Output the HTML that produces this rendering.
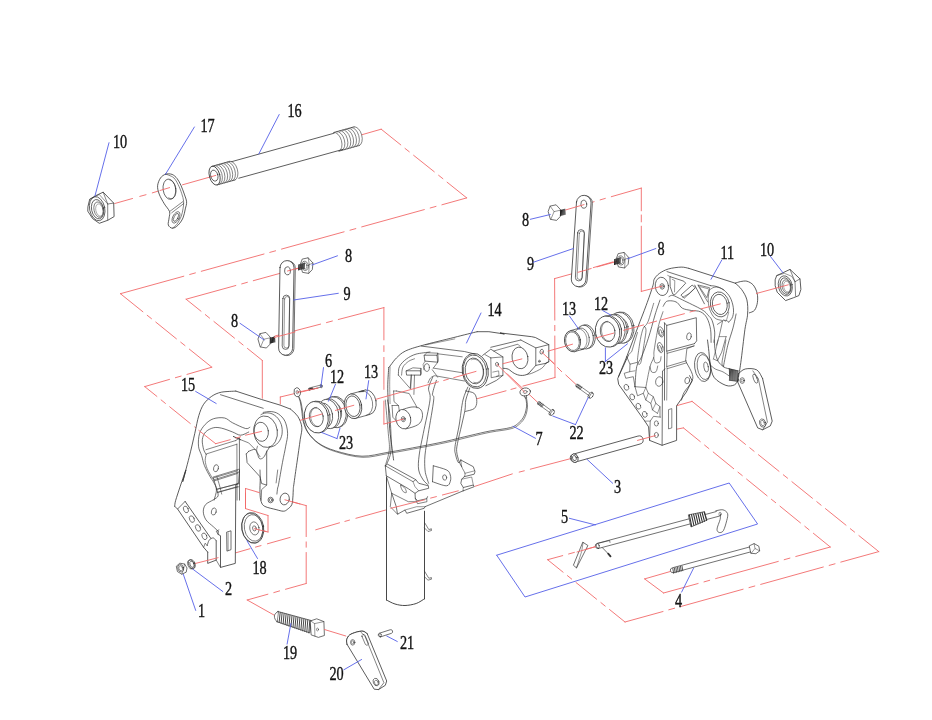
<!DOCTYPE html>
<html><head><meta charset="utf-8"><title>Exploded view</title>
<style>
html,body{margin:0;padding:0;background:#fff;}
body{width:932px;height:720px;overflow:hidden;font-family:"Liberation Serif",serif;}
svg{display:block;will-change:transform}
.lb{font-family:"Liberation Serif",serif;font-size:18.5px;fill:#111;stroke:#111;stroke-width:0.4px;}
path,ellipse,line,circle{stroke-linecap:round;stroke-linejoin:round}
</style></head><body>
<svg width="932" height="720" viewBox="0 0 932 720">
<rect width="932" height="720" fill="#fff"/>
<path d="M114.8,203.5 L132.5,198.5 M139.8,196.4 L146.0,194.7 M152.3,192.9 L169.6,187.6 M182.5,184.8 L215.8,175.4 " fill="none" stroke="#f26a6a" stroke-width="0.9" stroke-linecap="butt"/>
<path d="M362.0,134.7 L381.2,129.2 M381.2,129.2 L400.8,144.9 M405.0,148.4 L409.3,151.8 M413.6,155.3 L434.3,171.8 M438.6,175.3 L442.9,178.7 M447.1,182.2 L466.7,197.9 M466.7,197.9 L441.9,204.8 M436.0,206.4 L430.2,208.0 M424.3,209.6 L361.7,226.9 M355.8,228.6 L350.0,230.2 M344.1,231.8 L281.5,249.1 M275.6,250.8 L269.8,252.4 M264.0,254.0 L201.3,271.3 M195.4,272.9 L189.7,274.5 M183.8,276.2 L120.4,293.7 M120.4,293.7 L142.9,311.8 M147.2,315.3 L151.5,318.7 M155.8,322.1 L176.4,338.8 M180.7,342.2 L185.0,345.6 M189.3,349.1 L211.8,367.2 M211.8,367.2 L187.0,374.4 M181.1,376.1 L175.4,377.7 M169.5,379.4 L144.7,386.6 M144.7,386.6 L156.9,396.4 M161.1,399.9 L165.4,403.4 M169.7,406.8 L190.3,423.5 M194.6,426.9 L198.9,430.4 M203.1,433.9 L215.3,443.7 M215.3,443.7 L229.7,439.9 M235.6,438.3 L241.3,436.8 M247.2,435.2 L261.6,431.4 " fill="none" stroke="#f26a6a" stroke-width="0.9" stroke-linecap="butt"/>
<path d="M303.0,267.0 L253.3,280.7 M247.4,282.3 L241.7,283.9 M235.8,285.5 L186.1,299.2 M186.1,299.2 L201.0,311.2 M205.3,314.6 L209.6,318.1 M213.9,321.5 L234.5,338.1 M238.8,341.5 L243.1,345.0 M247.4,348.4 L262.3,360.4 M262.3,360.4 L262.3,398.3 " fill="none" stroke="#f26a6a" stroke-width="0.9" stroke-linecap="butt"/>
<path d="M275.0,336.0 L320.6,324.1 M326.5,322.6 L332.4,321.0 M338.3,319.5 L383.9,307.6 " fill="none" stroke="#f26a6a" stroke-width="0.9" stroke-linecap="butt"/>
<path d="M383.9,307.6 L383.9,339.9 M383.9,345.7 L383.9,351.5 M383.9,357.4 L383.9,389.4 " fill="none" stroke="#f26a6a" stroke-width="0.9" stroke-linecap="butt"/>
<path d="M555.0,377.5 L554.8,336.0 M554.8,330.7 L554.8,325.4 M554.8,320.1 L554.6,278.6 M554.6,278.6 L579.5,271.7 M585.4,270.1 L591.2,268.5 M597.1,266.9 L622.0,260.0 " fill="none" stroke="#f26a6a" stroke-width="0.9" stroke-linecap="butt"/>
<path d="M318.0,388.0 L280.3,397.0 M280.3,397.0 L280.3,404.0 " fill="none" stroke="#f26a6a" stroke-width="0.9" stroke-linecap="butt"/>
<path d="M584.0,204.6 L594.1,201.7 M600.1,199.9 L605.3,198.4 M611.3,196.7 L641.3,188.1 " fill="none" stroke="#f26a6a" stroke-width="0.9" stroke-linecap="butt"/>
<path d="M641.3,188.1 L641.3,210.8 M641.3,215.0 L641.3,221.9 M641.3,226.2 L641.3,291.4 " fill="none" stroke="#f26a6a" stroke-width="0.9" stroke-linecap="butt"/>
<path d="M235.5,552.9 L250.0,548.7 M255.5,547.1 L261.0,545.6 M267.4,543.8 L290.2,537.4 M315.7,529.8 L339.5,522.8 M344.9,521.4 L349.5,520.1 M355.9,518.3 L386.5,509.8 M475.0,486.3 L512.3,473.9 M519.2,472.1 L524.3,470.8 M530.3,469.2 L571.5,458.4 " fill="none" stroke="#f26a6a" stroke-width="0.9" stroke-linecap="butt"/>
<path d="M676.6,429.2 L683.4,427.9 M683.4,427.9 L700.3,441.6 M704.6,445.1 L708.9,448.6 M713.2,452.0 L733.7,468.7 M738.0,472.2 L742.3,475.6 M746.6,479.1 L767.1,495.8 M771.4,499.3 L775.7,502.7 M780.0,506.2 L800.5,522.9 M804.8,526.3 L809.1,529.8 M813.4,533.3 L830.3,547.0 M830.3,547.0 L795.8,556.5 M789.9,558.1 L784.2,559.7 M778.3,561.4 L715.6,578.6 M709.7,580.3 L704.0,581.9 M698.1,583.5 L663.6,593.0 M663.6,593.0 L644.6,578.9 M644.6,578.9 L671.7,571.1 " fill="none" stroke="#f26a6a" stroke-width="0.9" stroke-linecap="butt"/>
<path d="M676.6,405.7 L692.1,401.4 M692.1,401.4 L712.0,417.4 M716.3,420.9 L720.6,424.3 M724.9,427.8 L745.5,444.4 M749.8,447.8 L754.1,451.3 M758.4,454.7 L779.0,471.3 M783.3,474.8 L787.6,478.2 M791.9,481.7 L812.5,498.3 M816.8,501.7 L821.1,505.2 M825.4,508.6 L846.0,525.2 M850.3,528.7 L854.6,532.1 M858.9,535.6 L878.8,551.6 M878.8,551.6 L840.8,562.1 M835.0,563.8 L829.2,565.4 M823.3,567.0 L760.7,584.4 M754.8,586.0 L749.0,587.6 M743.1,589.2 L680.5,606.6 M674.6,608.2 L668.8,609.8 M663.0,611.5 L625.0,622.0 M625.0,622.0 L609.5,609.5 M605.2,606.1 L600.9,602.6 M596.6,599.2 L576.0,582.5 M571.7,579.1 L567.4,575.6 M563.1,572.2 L547.6,559.7 M547.6,559.7 L562.7,555.6 M568.6,554.0 L574.4,552.4 M580.3,550.8 L595.4,546.7 " fill="none" stroke="#f26a6a" stroke-width="0.9" stroke-linecap="butt"/>
<path d="M254.3,528.7 L268.0,532.0 M268.0,532.0 L268.0,515.5 M268.0,515.5 L245.5,508.6 M245.5,508.6 L245.5,488.5 M245.5,488.5 L259.2,492.5 " fill="none" stroke="#f26a6a" stroke-width="0.9" stroke-linecap="butt"/>
<path d="M284.9,499.8 L306.2,505.6 M306.2,505.6 L306.2,536.6 M306.2,541.9 L306.2,547.2 M306.2,552.5 L306.2,583.5 M306.2,583.5 L285.5,589.3 M279.6,590.9 L273.8,592.6 M267.9,594.2 L247.2,600.0 M247.2,600.0 L274.6,615.4 " fill="none" stroke="#f26a6a" stroke-width="0.9" stroke-linecap="butt"/>
<path d="M541.7,352.1 L554.2,363.8 M557.5,367.5 L561.7,371.7 M565.8,375.0 L576.7,385.1 " fill="none" stroke="#f26a6a" stroke-width="0.9" stroke-linecap="butt"/>
<path d="M497.0,364.3 L538.9,403.5 " fill="none" stroke="#f26a6a" stroke-width="0.9" stroke-linecap="butt"/>
<path d="M496.7,555.2 L729.2,483.0 L757.6,524.0 L525.0,597.0 L496.7,555.2" fill="none" stroke="#5560e8" stroke-width="0.9"/>
<text x="0" y="0" transform="translate(113,147.5) scale(0.77,1)" class="lb" opacity="0.99">10</text>
<text x="0" y="0" transform="translate(200.4,131.5) scale(0.77,1)" class="lb" opacity="0.99">17</text>
<text x="0" y="0" transform="translate(287.5,117) scale(0.77,1)" class="lb" opacity="0.99">16</text>
<text x="0" y="0" transform="translate(345,261.5) scale(0.77,1)" class="lb" opacity="0.99">8</text>
<text x="0" y="0" transform="translate(343.5,300) scale(0.77,1)" class="lb" opacity="0.99">9</text>
<text x="0" y="0" transform="translate(231,327) scale(0.77,1)" class="lb" opacity="0.99">8</text>
<text x="0" y="0" transform="translate(325,366.5) scale(0.77,1)" class="lb" opacity="0.99">6</text>
<text x="0" y="0" transform="translate(330,383) scale(0.77,1)" class="lb" opacity="0.99">12</text>
<text x="0" y="0" transform="translate(364,378) scale(0.77,1)" class="lb" opacity="0.99">13</text>
<text x="0" y="0" transform="translate(181,391) scale(0.77,1)" class="lb" opacity="0.99">15</text>
<text x="0" y="0" transform="translate(339,448.5) scale(0.77,1)" class="lb" opacity="0.99">23</text>
<text x="0" y="0" transform="translate(487.5,315.5) scale(0.77,1)" class="lb" opacity="0.99">14</text>
<text x="0" y="0" transform="translate(535.5,445) scale(0.77,1)" class="lb" opacity="0.99">7</text>
<text x="0" y="0" transform="translate(569.5,438.5) scale(0.77,1)" class="lb" opacity="0.99">22</text>
<text x="0" y="0" transform="translate(614,492.5) scale(0.77,1)" class="lb" opacity="0.99">3</text>
<text x="0" y="0" transform="translate(561,523) scale(0.77,1)" class="lb" opacity="0.99">5</text>
<text x="0" y="0" transform="translate(675,606.5) scale(0.77,1)" class="lb" opacity="0.99">4</text>
<text x="0" y="0" transform="translate(252.5,573.5) scale(0.77,1)" class="lb" opacity="0.99">18</text>
<text x="0" y="0" transform="translate(225,594.5) scale(0.77,1)" class="lb" opacity="0.99">2</text>
<text x="0" y="0" transform="translate(198,617) scale(0.77,1)" class="lb" opacity="0.99">1</text>
<text x="0" y="0" transform="translate(283,658.5) scale(0.77,1)" class="lb" opacity="0.99">19</text>
<text x="0" y="0" transform="translate(329.5,680) scale(0.77,1)" class="lb" opacity="0.99">20</text>
<text x="0" y="0" transform="translate(400,649) scale(0.77,1)" class="lb" opacity="0.99">21</text>
<text x="0" y="0" transform="translate(522,225.5) scale(0.77,1)" class="lb" opacity="0.99">8</text>
<text x="0" y="0" transform="translate(527,269.5) scale(0.77,1)" class="lb" opacity="0.99">9</text>
<text x="0" y="0" transform="translate(657.5,255) scale(0.77,1)" class="lb" opacity="0.99">8</text>
<text x="0" y="0" transform="translate(720.5,258.5) scale(0.77,1)" class="lb" opacity="0.99">11</text>
<text x="0" y="0" transform="translate(760,256) scale(0.77,1)" class="lb" opacity="0.99">10</text>
<text x="0" y="0" transform="translate(562,315) scale(0.77,1)" class="lb" opacity="0.99">13</text>
<text x="0" y="0" transform="translate(594,310) scale(0.77,1)" class="lb" opacity="0.99">12</text>
<text x="0" y="0" transform="translate(599,373.5) scale(0.77,1)" class="lb" opacity="0.99">23</text>
<ellipse cx="214.6" cy="175.6" rx="5.2" ry="9.7" transform="rotate(-15.5 214.6 175.6)" fill="none" stroke="#333" stroke-width="0.8"/>
<ellipse cx="214.29999999999998" cy="175.6" rx="3.6" ry="5.6" transform="rotate(-15.5 214.29999999999998 175.6)" fill="none" stroke="#333" stroke-width="0.7"/>
<path d="M214.21,165.65 A5.2,9.7 -15.5 0 1 219.39,184.35" fill="none" stroke="#333" stroke-width="0.6" />
<path d="M216.81,164.93 A5.2,9.7 -15.5 0 1 222.00,183.62" fill="none" stroke="#333" stroke-width="0.6" />
<path d="M219.42,164.20 A5.2,9.7 -15.5 0 1 224.60,182.90" fill="none" stroke="#333" stroke-width="0.6" />
<path d="M222.02,163.48 A5.2,9.7 -15.5 0 1 227.21,182.18" fill="none" stroke="#333" stroke-width="0.6" />
<path d="M224.63,162.76 A5.2,9.7 -15.5 0 1 229.81,181.45" fill="none" stroke="#333" stroke-width="0.6" />
<path d="M227.23,162.03 A5.2,9.7 -15.5 0 1 232.41,180.73" fill="none" stroke="#333" stroke-width="0.6" />
<path d="M229.83,161.31 A5.2,9.7 -15.5 0 1 235.02,180.00" fill="none" stroke="#333" stroke-width="0.6" />
<path d="M231.5,161.7 L334.1,133.2" fill="none" stroke="#333" stroke-width="0.8" />
<path d="M238.8,178.2 L342.9,149.4" fill="none" stroke="#333" stroke-width="0.8" />
<path d="M212.0,166.3 L229.8,161.3" fill="none" stroke="#333" stroke-width="0.7" />
<path d="M217.2,184.9 L235.0,180.0" fill="none" stroke="#333" stroke-width="0.7" />
<path d="M333.91,132.45 A5.2,9.7 -15.5 0 1 339.09,151.14" fill="none" stroke="#333" stroke-width="0.6" />
<path d="M336.80,131.65 A5.2,9.7 -15.5 0 1 341.98,150.34" fill="none" stroke="#333" stroke-width="0.6" />
<path d="M339.69,130.84 A5.2,9.7 -15.5 0 1 344.87,149.54" fill="none" stroke="#333" stroke-width="0.6" />
<path d="M342.58,130.04 A5.2,9.7 -15.5 0 1 347.76,148.74" fill="none" stroke="#333" stroke-width="0.6" />
<path d="M345.47,129.24 A5.2,9.7 -15.5 0 1 350.66,147.93" fill="none" stroke="#333" stroke-width="0.6" />
<path d="M348.36,128.44 A5.2,9.7 -15.5 0 1 353.55,147.13" fill="none" stroke="#333" stroke-width="0.6" />
<path d="M351.25,127.64 A5.2,9.7 -15.5 0 1 356.44,146.33" fill="none" stroke="#333" stroke-width="0.6" />
<path d="M354.14,126.84 A5.2,9.7 -15.5 0 1 359.33,145.53" fill="none" stroke="#333" stroke-width="0.6" />
<path d="M333.9,132.4 L354.1,126.8" fill="none" stroke="#333" stroke-width="0.7" />
<path d="M339.1,151.1 L359.3,145.5" fill="none" stroke="#333" stroke-width="0.7" />
<path d="M88.0,206.3 L89.7,199.3 L95.4,195.8 L103.2,192.2 L113.7,203.1 L114.1,216.6 L107.7,220.3 L99.3,223.3 L92.6,218.6 L88.0,211.5 Z" fill="#fff" stroke="#333" stroke-width="0.8" />
<path d="M103.2,192.2 L107.7,204.0 L107.7,220.3" fill="none" stroke="#333" stroke-width="0.6" />
<path d="M107.7,204.0 L113.7,203.1" fill="none" stroke="#333" stroke-width="0.6" />
<path d="M89.7,199.3 L99.3,194.5 L107.7,204.0" fill="none" stroke="#333" stroke-width="0.5" />
<ellipse cx="97.2" cy="208.7" rx="7.6" ry="12.2" transform="rotate(-12 97.2 208.7)" fill="none" stroke="#333" stroke-width="0.7"/>
<ellipse cx="97.6" cy="209.2" rx="6.0" ry="9.8" transform="rotate(-12 97.6 209.2)" fill="none" stroke="#333" stroke-width="0.7"/>
<ellipse cx="98.6" cy="209.6" rx="4.6" ry="7.8" transform="rotate(-12 98.6 209.6)" fill="none" stroke="#333" stroke-width="0.6"/>
<ellipse cx="99.4" cy="210.0" rx="3.6" ry="6.2" transform="rotate(-12 99.4 210.0)" fill="none" stroke="#666" stroke-width="0.5"/>
<path d="M165.6,174.2 C163.7,174.8 161.8,176.1 160.5,178.0 C159.1,180.0 157.9,183.1 157.6,185.7 C157.4,188.4 158.1,191.1 159.2,194.1 C160.3,197.1 162.6,200.9 164.3,203.8 C166.0,206.7 168.7,209.1 169.5,211.5 C170.3,213.9 169.3,215.7 169.1,217.9 C168.9,220.2 167.8,223.3 168.3,225.0 C168.9,226.7 170.9,228.2 172.4,228.2 C174.0,228.3 176.1,227.1 177.8,225.4 C179.6,223.7 181.8,220.7 183.0,217.9 C184.2,215.2 184.7,211.6 185.3,208.9 C185.9,206.2 186.8,204.3 186.6,201.8 C186.4,199.4 185.2,196.8 184.3,194.1 C183.4,191.4 182.2,188.3 181.1,185.7 C179.9,183.2 178.7,180.6 177.2,178.7 C175.7,176.8 174.0,175.2 172.1,174.4 C170.1,173.7 167.5,173.6 165.6,174.2 Z" fill="#fff" stroke="#333" stroke-width="0.8" />
<path d="M165.6,174.2 C166.2,174.3 167.4,174.5 168.8,175.2 C170.2,175.8 172.4,176.5 174.0,178.0 C175.5,179.6 176.8,181.9 178.1,184.5 C179.4,187.0 180.8,190.7 181.7,193.5 C182.6,196.3 183.4,198.6 183.6,201.2 C183.9,203.8 183.4,206.3 183.0,208.9 C182.6,211.5 182.1,214.1 181.1,216.6 C180.0,219.2 178.3,222.4 176.8,224.4 C175.4,226.3 173.2,227.6 172.4,228.2" fill="none" stroke="#333" stroke-width="0.6" />
<ellipse cx="169.4" cy="189.2" rx="6.3" ry="10.2" transform="rotate(-8 169.4 189.2)" fill="none" stroke="#333" stroke-width="0.7"/>
<path d="M170.0,180.2 C170.1,180.2 170.5,180.3 170.8,180.4 C171.0,180.5 171.3,180.6 171.6,180.8 C171.8,180.9 172.1,181.1 172.3,181.3 C172.6,181.5 172.8,181.8 173.0,182.0 C173.3,182.3 173.5,182.6 173.7,182.9 C173.9,183.2 174.1,183.5 174.3,183.9 C174.5,184.2 174.7,184.6 174.8,184.9 C175.0,185.3 175.1,185.7 175.3,186.1 C175.4,186.5 175.5,186.9 175.6,187.3 C175.7,187.8 175.8,188.2 175.8,188.6 C175.9,189.0 175.9,189.5 176.0,189.9 C176.0,190.3 176.0,190.8 176.0,191.2 C176.0,191.6 175.9,192.0 175.9,192.4 C175.8,192.8 175.8,193.2 175.7,193.6 C175.6,194.0 175.5,194.4 175.4,194.7 C175.3,195.1 175.1,195.4 175.0,195.7 C174.8,196.0 174.7,196.3 174.5,196.6 C174.3,196.9 174.1,197.1 173.9,197.3 C173.7,197.6 173.5,197.8 173.2,197.9 C173.0,198.1 172.8,198.2 172.5,198.3 C172.3,198.4 172.0,198.5 171.8,198.6 C171.5,198.6 171.3,198.6 171.0,198.6 C170.7,198.6 170.5,198.6 170.2,198.5 C170.0,198.5 169.7,198.4 169.4,198.2 C169.2,198.1 168.8,197.8 168.6,197.8" fill="none" stroke="#333" stroke-width="0.6" />
<path d="M170.1,211.2 L183.0,201.5" fill="none" stroke="#333" stroke-width="0.6" />
<path d="M171.7,212.8 L183.8,203.5" fill="none" stroke="#333" stroke-width="0.6" />
<ellipse cx="176.0" cy="217.4" rx="3.2" ry="6.2" transform="rotate(27 176.0 217.4)" fill="none" stroke="#333" stroke-width="0.6"/>
<ellipse cx="176.0" cy="217.4" rx="1.9" ry="4.4" transform="rotate(27 176.0 217.4)" fill="none" stroke="#333" stroke-width="0.6"/>
<path d="M220.5,567.4 L220.5,535.7 L218.1,534.4 L216.2,540.8 L216.2,560.1 L207.7,563.4 L207.7,552.1 L203.6,547.3 L177.6,509.0 L174.7,506.4 L175.6,500.6 L180.3,486.1 L185.9,470.0 L182.7,481.6 L189.1,457.4 L194.8,433.3 L198.8,415.6 L203.6,404.3 L211.7,396.3 L221.3,392.2 L235.8,391.1 L261.6,399.5 L280.1,405.1 L290.5,409.1 L297.8,416.4 L301.8,427.2 L300.2,439.7 L297.0,462.3 L293.8,484.8 L293.3,489.3 L293.0,495.8 L291.8,504.6 L287.3,509.4 L283.3,511.2 L276.1,509.6 L264.8,506.4 L261.1,501.4 L260.0,492.5 L235.3,492.5 L235.3,563.4 Z" fill="#fff" stroke="#fff" stroke-width="0.1" />
<path d="M220.5,535.7 L220.5,567.4 L235.3,563.4 L235.3,479.7 L220.5,486.1 Z" fill="#fff" stroke="#fff" stroke-width="0.1" />
<path d="M174.7,506.4 C174.8,505.4 174.7,504.0 175.6,500.6 C176.6,497.2 178.6,491.2 180.3,486.1 C182.0,481.0 185.5,470.8 185.9,470.0 C186.3,469.2 182.2,483.7 182.7,481.6 C183.2,479.5 187.1,465.5 189.1,457.4 C191.2,449.4 193.2,440.3 194.8,433.3 C196.4,426.3 197.3,420.4 198.8,415.6 C200.3,410.8 201.5,407.5 203.6,404.3 C205.8,401.1 208.7,398.3 211.7,396.3 C214.6,394.3 217.3,393.1 221.3,392.2 C225.4,391.4 233.4,391.3 235.8,391.1" fill="none" stroke="#333" stroke-width="0.8" />
<path d="M235.8,391.1 L261.6,399.5 L280.1,405.1 L290.5,409.1" fill="none" stroke="#333" stroke-width="0.8" />
<path d="M290.5,409.1 C291.8,410.4 295.9,413.4 297.8,416.4 C299.7,419.4 301.4,423.3 301.8,427.2 C302.2,431.1 301.0,433.9 300.2,439.7 C299.4,445.6 298.1,454.7 297.0,462.3 C295.9,469.8 294.4,480.3 293.8,484.8 C293.1,489.3 293.4,487.5 293.3,489.3 C293.1,491.1 293.2,493.2 293.0,495.8 C292.7,498.3 292.8,502.3 291.8,504.6 C290.9,506.9 288.7,508.3 287.3,509.4 C285.9,510.5 285.2,511.2 283.3,511.2 C281.4,511.2 279.1,510.4 276.1,509.6 C273.0,508.8 267.3,507.7 264.8,506.4 C262.3,505.0 261.9,503.7 261.1,501.4 C260.3,499.1 260.1,496.2 260.0,492.5 C259.8,488.9 260.2,481.8 260.3,479.7" fill="none" stroke="#333" stroke-width="0.8" />
<path d="M220.5,394.7 L263.2,408.3" fill="none" stroke="#333" stroke-width="0.7" />
<path d="M263.2,412.4 C264.5,412.2 268.7,411.3 271.2,411.6 C273.8,411.8 276.2,412.4 278.5,414.0 C280.8,415.6 283.4,418.0 284.9,421.2 C286.4,424.4 287.5,429.1 287.6,433.3 C287.8,437.4 286.6,441.3 285.7,446.2 C284.9,451.0 283.7,455.8 282.5,462.3 C281.3,468.7 279.3,480.5 278.5,484.8 C277.7,489.0 277.9,486.1 277.7,487.7 C277.4,489.3 277.0,493.1 276.9,494.1" fill="none" stroke="#333" stroke-width="0.7" />
<ellipse cx="265.6" cy="431.7" rx="11.8" ry="15.8" transform="rotate(-8 265.6 431.7)" fill="none" stroke="#333" stroke-width="0.7"/>
<path d="M260.9,414.7 C261.2,414.5 262.2,414.0 262.8,413.7 C263.4,413.5 264.1,413.3 264.7,413.1 C265.4,413.0 266.1,412.9 266.7,412.9 C267.4,412.8 268.1,412.9 268.8,413.0 C269.5,413.0 270.1,413.2 270.8,413.4 C271.5,413.6 272.1,413.9 272.8,414.2 C273.4,414.5 274.0,414.9 274.6,415.3 C275.2,415.7 275.8,416.2 276.4,416.7 C276.9,417.2 277.4,417.7 277.9,418.3 C278.4,418.9 278.9,419.6 279.3,420.3 C279.7,420.9 280.1,421.6 280.4,422.4 C280.8,423.1 281.0,423.9 281.3,424.6 C281.5,425.4 281.7,426.2 281.9,427.0 C282.0,427.8 282.2,428.6 282.2,429.5 C282.3,430.3 282.3,431.1 282.2,431.9 C282.2,432.7 282.1,433.5 282.0,434.3 C281.8,435.1 281.7,435.9 281.4,436.6 C281.2,437.4 280.9,438.1 280.6,438.8 C280.3,439.5 279.9,440.2 279.5,440.8 C279.1,441.5 278.7,442.1 278.2,442.6 C277.7,443.2 277.2,443.7 276.7,444.1 C276.1,444.6 275.6,445.0 275.0,445.4 C274.4,445.7 273.8,446.1 273.1,446.3 C272.5,446.6 271.8,446.8 271.2,446.9 C270.5,447.0 269.5,447.1 269.2,447.1" fill="none" stroke="#333" stroke-width="0.7" />
<ellipse cx="261.2" cy="431.8" rx="7.2" ry="9.6" transform="rotate(-8 261.2 431.8)" fill="none" stroke="#333" stroke-width="0.7"/>
<path d="M249.8,427.2 C249.1,427.4 248.3,429.2 245.5,428.5 C242.6,427.7 236.1,424.6 232.6,422.8 C229.1,421.1 227.8,418.7 224.6,418.0 C221.3,417.3 216.5,417.7 213.3,418.8 C210.1,419.9 207.5,422.0 205.2,424.4 C203.0,426.8 200.7,429.7 199.6,433.3 C198.5,436.9 198.1,442.4 198.5,446.2 C198.8,449.9 200.7,452.6 201.7,455.8 C202.7,459.0 203.0,462.0 204.4,465.5 C205.8,469.0 208.6,474.1 210.1,476.7 C211.5,479.4 212.2,479.4 213.3,481.6 C214.4,483.7 216.4,486.5 216.5,489.6 C216.6,492.7 214.5,498.3 214.1,500.1" fill="none" stroke="#333" stroke-width="0.7" />
<path d="M248.7,432.0 C247.4,432.5 243.3,435.2 240.6,435.2 C238.0,435.2 235.8,433.2 232.6,432.0 C229.4,430.8 224.6,428.8 221.3,428.1 C218.1,427.4 215.9,427.2 213.3,427.8 C210.7,428.5 207.4,430.0 205.6,432.0 C203.7,434.0 202.7,436.8 202.3,439.7 C202.0,442.6 203.0,446.9 203.6,449.4 C204.3,451.8 205.8,453.7 206.2,454.5" fill="none" stroke="#333" stroke-width="0.7" />
<path d="M206.2,454.5 C206.0,455.6 205.1,458.3 205.2,460.6 C205.4,463.0 206.0,465.7 207.2,468.7 C208.4,471.6 211.6,476.7 212.5,478.4" fill="none" stroke="#333" stroke-width="0.6" />
<path d="M206.0,449.7 L235.8,440.5" fill="none" stroke="#333" stroke-width="0.6" />
<path d="M206.5,453.9 L236.9,444.2" fill="none" stroke="#333" stroke-width="0.6" />
<path d="M213.0,477.1 L239.0,469.2" fill="none" stroke="#333" stroke-width="0.6" />
<path d="M213.3,480.0 L239.4,471.9" fill="none" stroke="#333" stroke-width="0.6" />
<path d="M216.2,489.3 L239.0,483.7" fill="none" stroke="#333" stroke-width="0.6" />
<path d="M217.3,492.5 L239.0,486.7" fill="none" stroke="#333" stroke-width="0.6" />
<path d="M235.8,440.5 L239.4,438.1" fill="none" stroke="#333" stroke-width="0.6" />
<path d="M239.4,438.1 L239.5,500.1" fill="none" stroke="#333" stroke-width="0.7" />
<path d="M236.9,444.2 L237.1,500.1" fill="none" stroke="#333" stroke-width="0.6" />
<path d="M233.4,436.5 L240.6,439.7" fill="none" stroke="#333" stroke-width="0.9" />
<ellipse cx="216" cy="468.2" rx="2.4" ry="3.6" transform="rotate(15 216 468.2)" fill="none" stroke="#333" stroke-width="0.6"/>
<path d="M248.7,451.3 C249.8,451.0 253.7,448.9 255.1,449.4 C256.6,449.9 256.8,452.7 257.5,454.2 C258.3,455.8 258.6,458.2 259.6,458.7 C260.6,459.3 262.3,458.6 263.5,457.4 C264.7,456.3 265.7,453.5 266.7,451.8 C267.7,450.1 269.1,447.8 269.6,447.0" fill="none" stroke="#333" stroke-width="0.7" />
<path d="M246.3,453.9 L248.7,451.3" fill="none" stroke="#333" stroke-width="0.7" />
<path d="M246.3,453.9 L247.1,462.6 L260.0,476.7 L261.6,483.5 L266.7,485.1 L266.7,451.0" fill="none" stroke="#333" stroke-width="0.7" />
<path d="M257.5,446.2 C257.4,447.0 256.3,449.2 256.7,451.0 C257.1,452.7 259.4,455.7 260.0,456.6" fill="none" stroke="#333" stroke-width="0.6" />
<path d="M266.7,485.1 L261.6,489.6 L261.2,500.1" fill="none" stroke="#333" stroke-width="0.6" />
<path d="M240.6,439.7 L248.7,442.9 L255.1,449.4" fill="none" stroke="#333" stroke-width="0.6" />
<path d="M239.5,470.0 L238.7,483.2 L235.8,484.8 L235.3,563.4 L220.5,567.4 L220.5,535.7 L218.1,534.4 L218.1,531.2" fill="none" stroke="#333" stroke-width="0.8" />
<path d="M213.3,478.0 C213.8,479.7 215.4,484.8 216.2,487.7 C217.0,490.7 218.6,493.7 218.1,495.8 C217.6,497.8 215.4,498.3 213.3,499.8 C211.2,501.3 207.2,502.6 205.6,504.6 C203.9,506.6 203.2,509.3 203.3,511.8 C203.4,514.4 204.4,517.4 206.0,519.9 C207.7,522.4 211.3,524.8 213.3,526.7 C215.3,528.5 217.3,530.4 218.1,531.2" fill="none" stroke="#333" stroke-width="0.7" />
<path d="M216.8,476.4 C217.3,478.0 218.9,483.1 219.7,486.1 C220.5,489.0 221.3,492.8 221.7,494.1" fill="none" stroke="#333" stroke-width="0.6" />
<path d="M213.3,478.0 L237.4,470.8" fill="none" stroke="#333" stroke-width="0.6" />
<path d="M214.1,480.9 L237.4,473.5" fill="none" stroke="#333" stroke-width="0.6" />
<path d="M217.3,489.3 L237.4,483.7" fill="none" stroke="#333" stroke-width="0.6" />
<path d="M218.1,492.2 L237.4,486.6" fill="none" stroke="#333" stroke-width="0.6" />
<ellipse cx="213.8" cy="511.5" rx="2.4" ry="3.6" transform="rotate(15 213.8 511.5)" fill="none" stroke="#333" stroke-width="0.6"/>
<path d="M227.0,532.0 L231.0,530.8 L231.0,549.7 L227.3,551.0 Z" fill="none" stroke="#333" stroke-width="0.7" />
<path d="M228.1,532.8 L228.1,550.2" fill="none" stroke="#333" stroke-width="0.5" />
<path d="M207.2,545.6 C207.5,544.7 208.2,541.3 209.3,540.0 C210.3,538.7 212.1,537.8 213.3,537.9 C214.4,538.1 215.7,540.3 216.2,540.8" fill="none" stroke="#333" stroke-width="0.7" />
<path d="M207.7,552.1 L207.7,563.4 L216.2,560.1 L216.2,540.8" fill="none" stroke="#333" stroke-width="0.8" />
<path d="M216.2,560.1 L220.5,567.4" fill="none" stroke="#333" stroke-width="0.6" />
<path d="M218.1,534.4 L216.2,531.2 L218.9,529.9" fill="none" stroke="#333" stroke-width="0.6" />
<path d="M174.7,506.4 L177.6,509.0 L185.1,501.4" fill="none" stroke="#333" stroke-width="0.7" />
<path d="M177.6,509.0 L203.6,547.3 L207.7,552.1" fill="none" stroke="#333" stroke-width="0.8" />
<path d="M185.1,501.4 L210.9,538.4" fill="none" stroke="#333" stroke-width="0.8" />
<path d="M203.6,547.3 L205.2,543.2 L207.2,545.6" fill="none" stroke="#333" stroke-width="0.6" />
<ellipse cx="185.92386930629326" cy="509.4334460003219" rx="2.3" ry="3.5" transform="rotate(-25 185.92386930629326 509.4334460003219)" fill="none" stroke="#333" stroke-width="0.6"/>
<ellipse cx="191.87912441654595" cy="519.0906164493804" rx="2.3" ry="3.5" transform="rotate(-25 191.87912441654595 519.0906164493804)" fill="none" stroke="#333" stroke-width="0.6"/>
<ellipse cx="197.9953323676163" cy="527.9430226943506" rx="2.3" ry="3.5" transform="rotate(-25 197.9953323676163 527.9430226943506)" fill="none" stroke="#333" stroke-width="0.6"/>
<ellipse cx="204.4334460003219" cy="536.3125704168679" rx="2.3" ry="3.5" transform="rotate(-25 204.4334460003219 536.3125704168679)" fill="none" stroke="#333" stroke-width="0.6"/>
<ellipse cx="284.7" cy="499.0" rx="4.6" ry="5.9" transform="rotate(12 284.7 499.0)" fill="none" stroke="#333" stroke-width="0.7"/>
<ellipse cx="270.6" cy="500" rx="2.6" ry="2.8" transform="rotate(0 270.6 500)" fill="none" stroke="#333" stroke-width="0.7"/>
<ellipse cx="270.6" cy="500" rx="1.4" ry="1.5" transform="rotate(0 270.6 500)" fill="none" stroke="#333" stroke-width="0.6"/>
<path d="M260.3,479.7 L260.0,470.0" fill="none" stroke="#333" stroke-width="0.7" />
<path d="M277.7,470.0 L276.1,482.9" fill="none" stroke="#333" stroke-width="0.6" />
<path d="M388.7,367.6 L390.7,365.1 L396.5,357.9 L405.3,351.1 L422.8,345.3 L453.9,337.5 L477.2,331.7 L488.9,331.7 L504.4,334.0 L525.8,335.6 L533.6,337.5 L547.6,344.3 L549.1,347.2 L548.7,361.8 L545.6,365.1 L537.9,366.3 L533.6,372.1 L525.8,375.4 L516.1,376.0 L508.3,373.5 L502.9,372.5 L496.6,380.3 L485.0,386.1 L475.3,388.4 L476.8,401.6 L474.3,408.5 L465.5,411.4 L465.8,425.0 L461.7,450.0 L463.3,460.0 L475.0,471.7 L474.2,486.7 L463.3,490.8 L425.0,506.7 L424.2,520.0 L424.5,598.8 L405.0,605.5 L386.2,600.0 L385.8,466.7 L390.0,450.0 L387.5,416.7 L385.0,400.0 L385.8,384.2 Z" fill="#fff" stroke="#fff" stroke-width="0.1" />
<path d="M388.7,367.6 C389.1,367.2 389.4,366.7 390.7,365.1 C392.0,363.5 394.1,360.2 396.5,357.9 C399.0,355.6 400.9,353.2 405.3,351.1 C409.6,349.0 414.7,347.5 422.8,345.3 C430.9,343.0 444.8,339.8 453.9,337.5 C462.9,335.2 473.3,332.6 477.2,331.7" fill="none" stroke="#333" stroke-width="0.8" />
<path d="M477.2,331.7 L488.9,331.7 L504.4,334.0 L500.0,332.9 L531.7,336.7 L535.4,337.5 L548.8,344.6 L548.8,361.7 L545.8,363.3" fill="none" stroke="#333" stroke-width="0.8" />
<path d="M425.7,344.9 L454.8,338.9" fill="none" stroke="#333" stroke-width="0.5" />
<path d="M520.8,340.0 L535.8,347.9 L548.8,344.6" fill="none" stroke="#333" stroke-width="0.7" />
<path d="M535.8,347.9 L535.8,365.4 L545.8,363.3 L548.8,361.7" fill="none" stroke="#333" stroke-width="0.7" />
<ellipse cx="541.6666666666666" cy="351.6666666666667" rx="1.6" ry="2.5" transform="rotate(15 541.6666666666666 351.6666666666667)" fill="none" stroke="#333" stroke-width="0.6"/>
<ellipse cx="539.3333333333334" cy="361.25" rx="0.8" ry="1.2" transform="rotate(15 539.3333333333334 361.25)" fill="none" stroke="#333" stroke-width="0.6"/>
<path d="M490.8,347.3 L520.8,340.0" fill="none" stroke="#333" stroke-width="0.7" />
<path d="M493.8,351.0 L517.9,344.2 L520.8,347.1" fill="none" stroke="#333" stroke-width="0.6" />
<ellipse cx="520.0" cy="357.9166666666667" rx="7.9" ry="10.9" transform="rotate(-10 520.0 357.9166666666667)" fill="none" stroke="#333" stroke-width="0.7"/>
<path d="M503.3,368.3 C504.2,368.5 506.5,368.3 508.3,369.2 C510.1,370.0 512.1,372.3 514.2,373.3 C516.2,374.4 518.6,375.3 520.8,375.4 C523.1,375.6 525.7,375.1 527.5,374.2 C529.3,373.3 530.3,371.5 531.7,370.0 C533.1,368.5 535.1,366.2 535.8,365.4" fill="none" stroke="#333" stroke-width="0.8" />
<path d="M545.8,363.3 C545.1,364.2 544.0,366.7 541.7,368.3 C539.3,370.0 534.0,372.4 531.7,373.3 C529.3,374.3 528.2,374.0 527.5,374.2" fill="none" stroke="#333" stroke-width="0.6" />
<ellipse cx="475.2566096423017" cy="370.9331259720062" rx="13.0" ry="17.6" transform="rotate(-9 475.2566096423017 370.9331259720062)" fill="#fff" stroke="#333" stroke-width="0.8"/>
<ellipse cx="474.85660964230175" cy="370.9331259720062" rx="11.6" ry="16.0" transform="rotate(-9 474.85660964230175 370.9331259720062)" fill="none" stroke="#333" stroke-width="0.7"/>
<ellipse cx="474.4566096423017" cy="370.9331259720062" rx="9.2" ry="13.0" transform="rotate(-9 474.4566096423017 370.9331259720062)" fill="none" stroke="#333" stroke-width="0.7"/>
<path d="M471.6,359.7 C471.8,359.6 472.4,359.4 472.7,359.3 C473.1,359.2 473.5,359.2 473.9,359.2 C474.3,359.2 474.7,359.2 475.1,359.3 C475.4,359.4 475.8,359.5 476.2,359.7 C476.6,359.8 477.0,360.0 477.4,360.2 C477.7,360.5 478.1,360.7 478.4,361.0 C478.8,361.3 479.1,361.6 479.5,362.0 C479.8,362.3 480.1,362.7 480.4,363.1 C480.7,363.5 481.0,364.0 481.2,364.4 C481.5,364.9 481.7,365.4 481.9,365.9 C482.1,366.4 482.3,366.9 482.4,367.4 C482.6,367.9 482.7,368.5 482.8,369.0 C483.0,369.6 483.0,370.1 483.1,370.7 C483.1,371.2 483.2,371.8 483.2,372.3 C483.2,372.9 483.1,373.4 483.1,373.9 C483.0,374.5 482.9,375.0 482.8,375.5 C482.7,376.0 482.6,376.5 482.4,377.0 C482.3,377.4 482.1,377.9 481.9,378.3 C481.6,378.8 481.4,379.2 481.2,379.5 C480.9,379.9 480.6,380.3 480.3,380.6 C480.0,380.9 479.7,381.2 479.4,381.4 C479.1,381.7 478.7,381.9 478.4,382.0 C478.0,382.2 477.7,382.4 477.3,382.5 C476.9,382.6 476.5,382.6 476.2,382.6 C475.8,382.7 475.4,382.7 475.0,382.6 C474.6,382.5 474.0,382.4 473.8,382.3" fill="none" stroke="#333" stroke-width="0.5" />
<path d="M482.6,355.4 L490.8,349.2 L502.9,356.9 L502.9,375.4 L496.6,380.3 L485.9,385.7" fill="none" stroke="#333" stroke-width="0.7" />
<path d="M490.8,357.9 L502.9,356.9" fill="none" stroke="#333" stroke-width="0.6" />
<path d="M490.8,357.9 L491.2,377.7 L502.9,375.4" fill="none" stroke="#333" stroke-width="0.6" />
<path d="M485.0,354.6 L490.8,357.9" fill="none" stroke="#333" stroke-width="0.6" />
<ellipse cx="497.02954898911355" cy="364.3234836702955" rx="1.5" ry="2.0" transform="rotate(-10 497.02954898911355 364.3234836702955)" fill="none" stroke="#333" stroke-width="0.6"/>
<path d="M492.8,372.1 L498.6,370.9 L499.0,375.4 L496.3,376.4" fill="none" stroke="#333" stroke-width="0.5" />
<path d="M465.5,391.0 C467.0,391.4 472.4,391.7 474.3,393.5 C476.2,395.3 476.8,399.2 476.8,401.6 C476.8,404.1 476.2,406.8 474.3,408.5 C472.4,410.1 467.0,410.9 465.5,411.4" fill="none" stroke="#333" stroke-width="0.7" />
<path d="M421.5,346.1 L464.4,351.5 L475.1,354.1" fill="none" stroke="#333" stroke-width="0.7" />
<path d="M437.8,353.8 L462.2,356.8" fill="none" stroke="#333" stroke-width="0.6" />
<path d="M433.3,368.1 L463.3,372.9" fill="none" stroke="#333" stroke-width="0.6" />
<path d="M432.2,369.7 L437.0,376.1 L464.4,381.0" fill="none" stroke="#333" stroke-width="0.6" />
<path d="M437.8,362.2 L433.3,368.1" fill="none" stroke="#333" stroke-width="0.6" />
<path d="M398.4,375.1 C398.6,373.6 398.1,369.2 399.5,366.5 C400.8,363.8 403.7,361.0 406.4,359.0 C409.2,356.9 412.2,355.3 416.1,354.1 C420.0,353.0 427.7,352.4 430.0,352.0" fill="none" stroke="#333" stroke-width="0.7" />
<path d="M401.6,375.1 C401.8,373.7 401.8,369.3 403.0,367.0 C404.2,364.7 406.7,362.7 408.6,361.3 C410.5,360.0 413.5,359.2 414.5,358.8" fill="none" stroke="#333" stroke-width="0.6" />
<path d="M398.4,375.1 L410.2,388.5 L411.3,375.1" fill="none" stroke="#333" stroke-width="0.6" />
<path d="M428.1,382.8 C428.5,382.0 429.5,379.0 430.6,377.9 C431.7,376.7 433.7,375.8 434.9,375.7 C436.1,375.6 437.3,377.0 437.8,377.2" fill="none" stroke="#333" stroke-width="0.6" />
<path d="M424.5,355.2 L437.0,355.2 L437.6,362.2 L425.2,361.1 Z" fill="none" stroke="#333" stroke-width="0.7" />
<path d="M424.5,355.2 L426.8,352.7 L437.8,353.2 L437.0,355.2" fill="none" stroke="#333" stroke-width="0.6" />
<path d="M437.8,353.2 L438.3,360.6 L437.6,362.2" fill="none" stroke="#333" stroke-width="0.6" />
<ellipse cx="426.82403433476395" cy="367.55364806866953" rx="2.6" ry="3.9" transform="rotate(0 426.82403433476395 367.55364806866953)" fill="none" stroke="#333" stroke-width="0.6"/>
<path d="M425.2,361.1 L423.1,364.3 L423.8,369.7" fill="none" stroke="#333" stroke-width="0.5" />
<path d="M406.4,370.8 L420.4,370.8 L420.6,375.1 L407.0,375.1 Z" fill="none" stroke="#333" stroke-width="0.7" />
<path d="M406.4,370.8 L412.9,367.8 L421.0,368.4 L420.4,370.8" fill="none" stroke="#333" stroke-width="0.6" />
<path d="M421.0,368.4 L421.4,373.5 L420.6,375.1" fill="none" stroke="#333" stroke-width="0.6" />
<path d="M411.3,375.1 L410.7,388.5" fill="none" stroke="#333" stroke-width="0.6" />
<path d="M414.5,375.3 L413.9,394.4" fill="none" stroke="#333" stroke-width="0.6" />
<path d="M388.7,367.6 C388.6,370.4 387.9,378.5 387.8,384.2 C387.7,389.8 387.8,394.2 388.2,401.6 C388.5,409.1 389.1,421.1 389.7,428.9 C390.4,436.6 391.4,443.1 392.1,448.3 C392.7,453.5 393.3,458.0 393.6,460.0" fill="none" stroke="#333" stroke-width="0.8" />
<path d="M390.1,366.7 C390.0,369.6 389.7,378.0 389.7,384.2 C389.7,390.3 390.0,400.4 390.1,403.6" fill="none" stroke="#333" stroke-width="0.5" />
<path d="M383.9,384.2 L384.3,424.0" fill="none" stroke="#fff" stroke-width="0.1" />
<path d="M402.9,409.4 C404.3,409.0 408.6,407.4 411.1,407.1 C413.6,406.8 416.1,406.8 417.9,407.5 C419.7,408.2 421.1,409.7 421.8,411.4 C422.5,413.0 422.7,415.3 422.4,417.2 C422.1,419.1 421.2,421.5 419.9,423.0 C418.5,424.6 416.4,425.6 414.0,426.5 C411.7,427.5 407.1,428.5 405.7,428.9" fill="none" stroke="#333" stroke-width="0.7" />
<ellipse cx="403.32814930015553" cy="419.144634525661" rx="7.4" ry="9.8" transform="rotate(-12 403.32814930015553 419.144634525661)" fill="#fff" stroke="#333" stroke-width="0.7"/>
<ellipse cx="403.32814930015553" cy="419.144634525661" rx="2.0" ry="2.6" transform="rotate(-12 403.32814930015553 419.144634525661)" fill="none" stroke="#333" stroke-width="0.6"/>
<ellipse cx="403.32814930015553" cy="419.144634525661" rx="0.9" ry="1.2" transform="rotate(-12 403.32814930015553 419.144634525661)" fill="none" stroke="#333" stroke-width="0.5"/>
<path d="M393.6,391.0 L394.0,401.6 L398.5,405.5" fill="none" stroke="#333" stroke-width="0.6" />
<path d="M396.5,391.0 L409.2,393.5 L416.0,405.5 L416.9,407.9" fill="none" stroke="#333" stroke-width="0.6" />
<path d="M393.6,391.0 L396.5,391.0" fill="none" stroke="#333" stroke-width="0.6" />
<path d="M392.1,405.5 L398.5,405.5 L399.4,411.4" fill="none" stroke="#333" stroke-width="0.6" />
<path d="M392.1,405.5 L392.8,417.2 L396.5,421.1" fill="none" stroke="#333" stroke-width="0.6" />
<path d="M386.5,477.5 L386.5,600.0" fill="none" stroke="#333" stroke-width="0.9" />
<path d="M424.5,511.2 L424.5,598.8" fill="none" stroke="#333" stroke-width="0.9" />
<path d="M386.5,600.0 C387.9,600.7 391.9,603.1 395.0,604.0 C398.1,604.9 401.5,605.6 405.0,605.5 C408.5,605.4 413.0,604.6 416.2,603.5 C419.5,602.4 423.1,599.5 424.5,598.8" fill="none" stroke="#333" stroke-width="0.9" />
<path d="M424.5,522.5 L428.8,529.5 L431.2,529.0" fill="none" stroke="#333" stroke-width="0.6" />
<path d="M424.5,528.0 L428.0,531.5 L431.5,530.5 L431.2,529.0" fill="none" stroke="#333" stroke-width="0.6" />
<path d="M424.5,571.2 L428.8,578.2 L431.2,577.8" fill="none" stroke="#333" stroke-width="0.6" />
<path d="M424.5,576.8 L428.0,580.2 L431.5,579.2 L431.2,577.8" fill="none" stroke="#333" stroke-width="0.6" />
<path d="M385.3,465.8 L387.5,464.2 L415.8,479.7 L418.7,483.3 L428.3,485.8 L428.7,488.3 L418.7,490.8 L415.0,493.3 L415.3,498.3 L417.5,500.8 L426.7,498.7 L427.5,496.7" fill="none" stroke="#333" stroke-width="0.7" />
<path d="M385.3,465.8 L386.3,475.8 L408.3,488.7 L415.0,493.3" fill="none" stroke="#333" stroke-width="0.7" />
<path d="M385.3,465.8 L413.0,481.7 L415.8,479.7" fill="none" stroke="#333" stroke-width="0.6" />
<path d="M413.0,481.7 L415.0,486.7 L418.7,490.8" fill="none" stroke="#333" stroke-width="0.5" />
<path d="M391.7,493.3 L396.3,506.7 L397.5,514.2 L405.0,510.0 L406.7,513.3 L424.2,508.3 L425.0,506.7 L463.3,490.8" fill="none" stroke="#333" stroke-width="0.7" />
<path d="M391.7,493.3 L390.3,506.7 L397.5,514.2" fill="none" stroke="#333" stroke-width="0.6" />
<path d="M386.3,475.8 L391.7,493.3 L408.3,501.7 L416.7,501.7" fill="none" stroke="#333" stroke-width="0.6" />
<path d="M405.0,510.0 L416.7,506.7 L425.0,506.7" fill="none" stroke="#333" stroke-width="0.5" />
<path d="M426.7,498.7 L427.0,501.7 L417.5,503.7 L415.3,498.3" fill="none" stroke="#333" stroke-width="0.6" />
<path d="M400.8,485.0 C401.4,485.0 404.1,487.1 405.0,488.3 C405.9,489.6 406.6,491.9 406.3,492.5 C406.1,493.1 404.2,492.4 403.3,491.7 C402.5,491.0 401.8,489.4 401.3,488.3 C400.9,487.2 400.2,485.0 400.8,485.0 Z" fill="none" stroke="#333" stroke-width="0.6" />
<path d="M460.8,460.0 L473.3,466.7 L475.0,471.7 L474.2,474.2 L464.2,476.7 L461.7,479.2 L460.8,483.3 L463.3,487.5 L473.3,485.0 L474.2,486.7 L463.3,490.8" fill="none" stroke="#333" stroke-width="0.7" />
<path d="M460.8,460.0 C461.0,461.1 461.0,464.4 461.7,466.7 C462.4,468.9 464.6,471.7 465.0,473.3 C465.4,475.0 464.3,476.1 464.2,476.7" fill="none" stroke="#333" stroke-width="0.6" />
<path d="M465.0,473.3 L474.7,470.8" fill="none" stroke="#333" stroke-width="0.5" />
<path d="M463.3,487.5 L463.0,490.8" fill="none" stroke="#333" stroke-width="0.5" />
<path d="M461.7,479.2 L471.7,477.0 L473.3,485.0" fill="none" stroke="#333" stroke-width="0.5" />
<path d="M433.3,465.8 C435.6,466.5 443.8,468.5 446.7,470.0 C449.5,471.5 449.7,473.1 450.3,475.0 C450.9,476.9 451.0,479.5 450.3,481.3 C449.7,483.1 449.3,485.8 446.3,485.8 C443.4,485.9 434.8,482.4 432.5,481.7" fill="none" stroke="#333" stroke-width="0.7" />
<path d="M432.5,481.7 L433.3,465.8" fill="none" stroke="#333" stroke-width="0.7" />
<ellipse cx="444.6666666666667" cy="477.5" rx="2.0" ry="2.7" transform="rotate(-10 444.6666666666667 477.5)" fill="none" stroke="#333" stroke-width="0.6"/>
<path d="M467.9,387.1 C467.1,389.2 464.5,393.7 463.0,400.0 C461.5,406.3 460.5,417.2 459.2,425.0 C457.8,432.8 455.6,441.7 455.0,446.7 C454.4,451.7 455.1,452.4 455.7,455.0 C456.2,457.6 457.5,461.7 458.3,462.5 C459.2,463.3 460.4,460.4 460.8,460.0" fill="none" stroke="#333" stroke-width="0.7" />
<path d="M469.8,388.0 C469.2,390.0 466.6,396.3 465.8,400.0 C465.0,403.7 465.7,405.8 465.0,410.0 C464.3,414.2 462.9,419.4 461.7,425.0 C460.4,430.6 458.3,438.9 457.5,443.3 C456.7,447.8 456.4,448.6 456.7,451.7 C456.9,454.7 458.3,459.2 459.2,461.7 C460.0,464.2 461.2,465.8 461.7,466.7" fill="none" stroke="#333" stroke-width="0.7" />
<path d="M432.9,376.8 C432.2,378.6 429.1,384.2 428.6,388.0 C428.1,391.9 430.9,392.5 430.0,400.0 C429.1,407.5 425.1,424.2 423.3,433.3 C421.5,442.5 419.9,448.9 419.2,455.0 C418.4,461.1 418.0,465.8 418.7,470.0 C419.4,474.2 421.7,477.5 423.3,480.0 C424.9,482.5 427.5,484.2 428.3,485.0" fill="none" stroke="#333" stroke-width="0.7" />
<path d="M436.4,380.3 C435.7,382.5 432.9,390.6 432.5,393.9 C432.0,397.2 434.4,393.4 433.7,400.0 C433.0,406.6 429.8,424.2 428.3,433.3 C426.9,442.5 425.6,448.9 425.0,455.0 C424.4,461.1 424.7,466.1 425.0,470.0 C425.3,473.9 426.4,476.1 427.0,478.3 C427.6,480.6 428.4,482.5 428.7,483.3" fill="none" stroke="#333" stroke-width="0.7" />
<path d="M387.5,400.0 C387.9,402.8 389.4,408.3 390.0,416.7 C390.6,425.0 391.6,442.1 391.0,450.0 C390.4,457.9 387.4,461.8 386.7,464.2" fill="none" stroke="#333" stroke-width="0.7" />
<path d="M385.3,400.0 C385.8,405.6 387.7,425.0 388.3,433.3 C389.0,441.7 389.8,444.6 389.3,450.0 C388.8,455.4 386.0,463.2 385.3,465.8" fill="none" stroke="#333" stroke-width="0.6" />
<path d="M468.3,400.0 L475.0,401.7 L476.7,406.7 L473.3,410.8 L465.8,412.5" fill="none" stroke="#fff" stroke-width="0.1" />
<path d="M650.6,288.8 L651.8,281.0 L656.6,275.0 L665.3,270.3 L674.0,268.0 L681.8,267.1 L712.2,277.2 L726.1,281.9 L736.5,284.2 L742.5,281.0 L749.5,282.8 L754.7,288.8 L757.6,298.4 L756.4,307.9 L752.4,313.1 L748.3,312.3 L746.9,324.4 L744.3,341.8 L740.8,362.6 L743.3,363.2 L745.2,369.0 L756.8,369.9 L762.6,378.6 L772.2,421.1 L770.3,425.9 L762.6,429.8 L757.7,427.9 L738.4,383.5 L733.6,386.0 L725.9,386.0 L714.3,379.6 L706.6,376.7 L700.8,380.6 L695.0,372.8 L692.1,380.6 L686.3,392.1 L676.6,405.7 L676.6,440.4 L662.1,445.3 L649.6,440.4 L648.6,426.9 L644.8,421.1 L618.7,384.4 L617.7,378.6 L628.3,355.4 L637.6,327.9 L646.2,305.3 Z" fill="#fff" stroke="#fff" stroke-width="0.1" />
<path d="M618.5,376.5 C619.9,373.0 624.0,363.7 627.1,355.7 C630.3,347.6 634.4,336.3 637.6,327.9 C640.7,319.5 643.7,312.3 646.2,305.3 C648.8,298.3 651.6,290.1 652.9,285.7 C654.2,281.4 653.1,281.4 654.2,279.3 C655.2,277.3 657.0,275.2 659.3,273.5 C661.7,271.8 664.7,270.1 668.3,269.0 C672.0,267.9 677.8,267.2 681.2,267.1 C684.6,267.0 687.6,268.2 688.9,268.4" fill="none" stroke="#333" stroke-width="0.8" />
<path d="M688.9,268.4 L735.3,283.2" fill="none" stroke="#333" stroke-width="0.8" />
<path d="M735.3,283.2 C736.1,282.9 738.5,282.0 740.4,281.6 C742.4,281.3 744.7,280.7 746.9,281.2 C749.0,281.8 751.6,283.1 753.3,285.1 C755.0,287.1 756.5,290.6 757.2,293.5 C757.8,296.4 757.8,299.7 757.4,302.5 C757.0,305.3 755.9,308.5 754.6,310.2 C753.3,311.9 750.3,312.4 749.4,312.8" fill="none" stroke="#333" stroke-width="0.8" />
<path d="M735.3,283.2 C736.3,284.2 739.8,286.8 741.7,289.6 C743.6,292.4 745.9,295.8 746.9,299.9 C747.8,304.0 748.0,309.1 747.6,314.1 C747.3,319.0 746.1,321.4 744.9,329.5 C743.8,337.6 741.9,354.8 740.8,362.6 C739.8,370.4 738.9,374.2 738.6,376.5" fill="none" stroke="#333" stroke-width="0.8" />
<path d="M667.0,271.6 L710.8,285.7" fill="none" stroke="#333" stroke-width="0.7" />
<path d="M710.8,285.7 C711.7,285.9 713.8,285.7 716.0,286.4 C718.1,287.1 721.3,288.0 723.7,289.9 C726.0,291.7 728.5,294.4 730.1,297.3 C731.7,300.3 732.9,304.4 733.3,307.6 C733.8,310.9 733.5,314.2 732.7,316.6 C731.9,319.1 729.5,321.2 728.8,322.1" fill="none" stroke="#333" stroke-width="0.7" />
<path d="M736.1,314.0 C735.6,316.3 734.4,322.7 733.0,327.9 C731.6,333.1 729.4,338.9 727.8,345.2 C726.2,351.6 724.2,362.6 723.5,366.1" fill="none" stroke="#333" stroke-width="0.7" />
<ellipse cx="661.8874726406592" cy="286.39371700785375" rx="6.6" ry="9.2" transform="rotate(-8 661.8874726406592 286.39371700785375)" fill="none" stroke="#333" stroke-width="0.7"/>
<ellipse cx="662.1874726406592" cy="286.39371700785375" rx="2.2" ry="2.8" transform="rotate(-8 662.1874726406592 286.39371700785375)" fill="none" stroke="#333" stroke-width="0.6"/>
<ellipse cx="662.1874726406592" cy="286.39371700785375" rx="1.1" ry="1.5" transform="rotate(-8 662.1874726406592 286.39371700785375)" fill="none" stroke="#333" stroke-width="0.5"/>
<ellipse cx="719.8249002188747" cy="304.4186944766319" rx="7.4" ry="10.2" transform="rotate(-10 719.8249002188747 304.4186944766319)" fill="none" stroke="#333" stroke-width="0.7"/>
<ellipse cx="719.8249002188747" cy="304.4186944766319" rx="9.4" ry="12.6" transform="rotate(-10 719.8249002188747 304.4186944766319)" fill="none" stroke="#333" stroke-width="0.7"/>
<path d="M709.5,289.9 C710.3,289.4 712.5,287.7 714.0,287.3 C715.5,286.9 716.9,286.9 718.5,287.3 C720.1,287.7 722.8,289.4 723.7,289.9" fill="none" stroke="#333" stroke-width="0.6" />
<path d="M728.8,322.1 C728.4,321.8 727.1,320.8 726.3,320.5 C725.4,320.2 724.1,320.3 723.7,320.3" fill="none" stroke="#333" stroke-width="0.6" />
<path d="M709.5,289.9 C709.3,291.3 708.2,295.4 708.2,298.6 C708.2,301.8 708.5,305.7 709.5,308.9 C710.6,312.1 712.5,316.0 714.7,317.9 C716.8,319.9 721.1,320.1 722.4,320.5" fill="none" stroke="#333" stroke-width="0.6" />
<path d="M670.3,276.7 L683.8,281.2 L685.7,283.2 L674.8,294.8 L672.8,294.1 L670.3,287.0 Z" fill="none" stroke="#333" stroke-width="0.7" />
<path d="M667.7,275.4 L670.3,276.7" fill="none" stroke="#333" stroke-width="0.5" />
<path d="M672.2,279.3 L674.8,280.6 L674.5,291.9" fill="none" stroke="#333" stroke-width="0.5" />
<path d="M681.2,294.8 L692.1,285.1 L695.4,287.7 L684.4,298.0 Z" fill="none" stroke="#333" stroke-width="0.7" />
<path d="M682.7,297.1 L689.6,293.5 L694.1,289.0" fill="none" stroke="#333" stroke-width="0.5" />
<path d="M694.7,285.1 L704.4,303.8" fill="none" stroke="#333" stroke-width="0.7" />
<path d="M697.9,285.1 L707.6,301.8" fill="none" stroke="#333" stroke-width="0.6" />
<path d="M698.6,285.1 L709.5,287.7 L706.9,297.3 Z" fill="none" stroke="#333" stroke-width="0.6" />
<path d="M700.5,286.7 L708.0,288.7" fill="none" stroke="#333" stroke-width="0.5" />
<path d="M669.0,296.7 C669.6,296.5 670.6,294.9 672.8,295.4 C675.1,295.9 677.7,297.6 682.5,299.9 C687.3,302.3 697.5,307.0 701.8,309.6 C706.1,312.1 706.5,313.5 708.2,315.4 C710.0,317.2 711.0,317.7 712.1,320.5 C713.2,323.3 714.4,328.5 714.7,332.1 C715.0,335.7 714.1,340.7 714.0,342.4" fill="none" stroke="#333" stroke-width="0.7" />
<path d="M663.2,306.3 C663.7,305.5 664.9,302.4 666.4,301.5 C667.9,300.6 670.4,300.7 672.2,300.9 C674.0,301.2 675.6,301.5 677.3,302.7 C679.1,304.0 680.1,307.0 682.5,308.3 C684.8,309.6 688.5,309.9 691.5,310.5 C694.5,311.0 697.9,310.5 700.5,311.8 C703.1,313.0 705.3,315.0 706.9,317.9 C708.6,320.9 709.9,325.4 710.6,329.5 C711.2,333.6 711.0,340.3 711.1,342.4" fill="none" stroke="#333" stroke-width="0.7" />
<path d="M664.5,322.9 L666.7,325.4 L696.3,317.7 L696.7,340.9 L694.4,343.7" fill="none" stroke="#333" stroke-width="0.7" />
<path d="M666.7,325.4 L666.7,351.2 L694.4,343.7" fill="none" stroke="#333" stroke-width="0.7" />
<path d="M667.1,353.3 L694.4,345.8 L686.9,348.6 L685.6,360.5" fill="none" stroke="#333" stroke-width="0.6" />
<path d="M666.7,351.2 L667.1,353.3 L666.7,366.6 L686.0,360.9" fill="none" stroke="#333" stroke-width="0.6" />
<path d="M667.1,368.7 L686.6,362.8" fill="none" stroke="#333" stroke-width="0.6" />
<path d="M686.0,360.9 C686.1,361.2 685.6,360.5 686.6,362.8 C687.7,365.0 691.6,371.2 692.4,374.4 C693.3,377.6 692.9,379.1 691.5,382.1 C690.1,385.1 685.7,389.4 684.1,392.4 C682.4,395.4 681.9,398.8 681.5,400.1" fill="none" stroke="#333" stroke-width="0.7" />
<ellipse cx="688.9674262907172" cy="336.39371700785375" rx="2.3" ry="3.6" transform="rotate(10 688.9674262907172 336.39371700785375)" fill="none" stroke="#333" stroke-width="0.6"/>
<path d="M664.5,322.9 L664.5,400.1" fill="none" stroke="#333" stroke-width="0.7" />
<path d="M666.7,366.6 L667.1,368.7 L666.7,400.1" fill="none" stroke="#333" stroke-width="0.5" />
<ellipse cx="660.8999613750483" cy="331.8874726406592" rx="2.7" ry="5.2" transform="rotate(-14 660.8999613750483 331.8874726406592)" fill="none" stroke="#333" stroke-width="0.6"/>
<ellipse cx="660.6999613750482" cy="332.6874726406592" rx="1.3" ry="3.2" transform="rotate(-14 660.6999613750482 332.6874726406592)" fill="none" stroke="#333" stroke-width="0.5"/>
<ellipse cx="660.2562121797348" cy="347.59495300630874" rx="2.7" ry="5.2" transform="rotate(-14 660.2562121797348 347.59495300630874)" fill="none" stroke="#333" stroke-width="0.6"/>
<ellipse cx="660.0562121797348" cy="348.39495300630875" rx="1.3" ry="3.2" transform="rotate(-14 660.0562121797348 348.39495300630875)" fill="none" stroke="#333" stroke-width="0.5"/>
<path d="M717.4,324.4 L722.6,320.9 L719.1,336.6 L716.5,345.2" fill="none" stroke="#333" stroke-width="0.6" />
<path d="M726.1,336.6 L721.7,352.2 L717.4,360.9 L713.9,359.1" fill="none" stroke="#333" stroke-width="0.6" />
<path d="M719.1,336.6 L726.1,336.6" fill="none" stroke="#333" stroke-width="0.5" />
<path d="M728.7,312.3 C728.2,313.7 726.9,319.7 726.1,320.9 C725.2,322.2 723.9,319.8 723.5,319.6" fill="none" stroke="#333" stroke-width="0.5" />
<path d="M628.3,355.4 L617.7,378.6 L618.7,384.4 L644.8,421.1 L648.6,426.9 L649.6,440.4 L662.1,445.3 L676.6,440.4 L676.6,405.7 L686.3,392.1 L692.1,380.6 L689.6,375.7" fill="none" stroke="#333" stroke-width="0.8" />
<path d="M662.1,445.3 L662.5,370.9 L665.0,369.0" fill="none" stroke="#333" stroke-width="0.7" />
<path d="M649.6,440.4 L650.2,421.1 L653.5,416.3 L660.6,417.2" fill="none" stroke="#333" stroke-width="0.6" />
<path d="M644.8,421.1 L650.2,421.1" fill="none" stroke="#333" stroke-width="0.5" />
<ellipse cx="626.4156044804944" cy="387.3155658555427" rx="2.3" ry="3.0" transform="rotate(-20 626.4156044804944 387.3155658555427)" fill="none" stroke="#333" stroke-width="0.6"/>
<ellipse cx="632.2093472383159" cy="396.97180378524524" rx="2.3" ry="3.0" transform="rotate(-20 632.2093472383159 396.97180378524524)" fill="none" stroke="#333" stroke-width="0.6"/>
<ellipse cx="638.3893395133256" cy="406.24179219775976" rx="2.3" ry="3.0" transform="rotate(-20 638.3893395133256 406.24179219775976)" fill="none" stroke="#333" stroke-width="0.6"/>
<ellipse cx="644.7624565469293" cy="414.3530320587099" rx="2.3" ry="3.0" transform="rotate(-20 644.7624565469293 414.3530320587099)" fill="none" stroke="#333" stroke-width="0.6"/>
<ellipse cx="656.3499420625724" cy="423.42989571263035" rx="2.0" ry="2.6" transform="rotate(0 656.3499420625724 423.42989571263035)" fill="none" stroke="#333" stroke-width="0.6"/>
<ellipse cx="656.3499420625724" cy="435.01738122827345" rx="2.0" ry="2.6" transform="rotate(0 656.3499420625724 435.01738122827345)" fill="none" stroke="#333" stroke-width="0.6"/>
<ellipse cx="687.2499034376207" cy="380.55619930475086" rx="2.4" ry="3.2" transform="rotate(10 687.2499034376207 380.55619930475086)" fill="none" stroke="#333" stroke-width="0.6"/>
<ellipse cx="659.2468134414833" cy="381.52182309772115" rx="3.6" ry="4.8" transform="rotate(10 659.2468134414833 381.52182309772115)" fill="none" stroke="#333" stroke-width="0.6"/>
<path d="M668.9,409.5 L671.8,408.6 L671.8,427.9 L668.9,428.8 Z" fill="none" stroke="#333" stroke-width="0.6" />
<path d="M660.0,300.0 C659.2,302.5 656.9,308.6 655.0,315.0 C653.1,321.4 650.6,331.4 648.3,338.3 C646.1,345.3 643.6,351.9 641.7,356.7 C639.7,361.4 637.8,361.7 636.7,366.7 C635.6,371.7 635.3,383.3 635.0,386.7" fill="none" stroke="#333" stroke-width="0.7" />
<path d="M653.7,303.3 C652.7,306.4 649.6,317.8 648.0,321.7 C646.4,325.6 644.8,325.8 644.2,326.7" fill="none" stroke="#333" stroke-width="0.6" />
<path d="M644.2,326.7 C644.9,326.2 646.0,327.6 646.0,330.3 C646.0,333.1 645.0,338.0 644.2,343.3 C643.3,348.7 641.9,359.4 640.8,362.5 C639.7,365.6 637.8,364.6 637.5,362.0 C637.2,359.4 638.5,351.4 639.2,346.7 C639.9,341.9 640.8,336.7 641.7,333.3 C642.5,330.0 643.4,327.2 644.2,326.7 Z" fill="none" stroke="#333" stroke-width="0.6" />
<path d="M637.5,332.5 L631.7,351.7 L628.3,355.0" fill="none" stroke="#333" stroke-width="0.6" />
<path d="M626.7,356.7 L630.0,364.2 L636.7,362.5" fill="none" stroke="#333" stroke-width="0.6" />
<path d="M630.0,364.2 L629.7,371.7 L624.2,373.3 L625.8,378.3 L633.3,376.7 L635.0,386.7" fill="none" stroke="#333" stroke-width="0.6" />
<path d="M629.7,371.7 L635.0,370.8" fill="none" stroke="#333" stroke-width="0.5" />
<path d="M650.0,366.7 C650.3,367.6 650.7,371.2 651.7,372.0 C652.7,372.8 655.0,372.7 656.0,371.7 C657.0,370.7 657.4,366.9 657.7,366.0" fill="none" stroke="#333" stroke-width="0.6" />
<path d="M653.7,357.5 C653.9,358.4 654.3,362.0 655.3,362.7 C656.4,363.4 659.1,362.7 660.0,361.7 C660.9,360.7 660.8,357.5 661.0,356.7" fill="none" stroke="#333" stroke-width="0.6" />
<path d="M663.0,311.7 C662.2,314.2 659.8,320.3 658.3,326.7 C656.9,333.1 654.9,344.9 654.2,350.0 C653.4,355.1 654.4,354.7 653.7,357.5 C653.0,360.3 651.3,361.7 650.0,366.7 C648.7,371.7 646.5,384.0 645.8,387.5" fill="none" stroke="#333" stroke-width="0.6" />
<path d="M635.0,386.7 L645.8,387.5 L648.3,393.3 L653.3,396.7 L655.8,403.3 L660.0,406.7 L660.0,416.7" fill="none" stroke="#333" stroke-width="0.6" />
<path d="M635.0,386.7 L637.5,395.8 L643.3,393.3 L645.8,400.0 L650.8,403.3 L652.5,410.0 L657.5,413.3" fill="none" stroke="#333" stroke-width="0.6" />
<path d="M645.8,387.5 L643.3,393.3" fill="none" stroke="#333" stroke-width="0.5" />
<path d="M648.3,393.3 L645.8,400.0" fill="none" stroke="#333" stroke-width="0.5" />
<path d="M653.3,396.7 L650.8,403.3" fill="none" stroke="#333" stroke-width="0.5" />
<path d="M655.8,403.3 L652.5,410.0" fill="none" stroke="#333" stroke-width="0.5" />
<path d="M660.0,406.7 L657.5,413.3" fill="none" stroke="#333" stroke-width="0.5" />
<ellipse cx="702.6998841251449" cy="367.03746620316724" rx="8.0" ry="14.6" transform="rotate(-8 702.6998841251449 367.03746620316724)" fill="#fff" stroke="#333" stroke-width="0.7"/>
<ellipse cx="703.8998841251449" cy="367.03746620316724" rx="6.6" ry="12.6" transform="rotate(-8 703.8998841251449 367.03746620316724)" fill="none" stroke="#333" stroke-width="0.6"/>
<ellipse cx="706.0998841251449" cy="367.03746620316724" rx="2.2" ry="5.0" transform="rotate(-8 706.0998841251449 367.03746620316724)" fill="none" stroke="#333" stroke-width="0.6"/>
<path d="M707.5,340.0 C707.8,341.9 708.4,347.4 708.9,351.6 C709.4,355.8 709.5,360.8 710.4,365.1 C711.3,369.5 711.7,374.3 714.3,377.7 C716.9,381.0 722.5,384.2 725.9,385.4 C729.3,386.6 732.5,385.8 734.6,384.8 C736.7,383.8 737.8,380.5 738.4,379.6" fill="none" stroke="#333" stroke-width="0.8" />
<path d="M714.3,340.0 C714.4,341.9 714.6,348.0 715.3,351.6 C715.9,355.1 716.7,358.7 718.1,361.2 C719.6,363.8 722.0,365.7 723.9,367.0 C725.9,368.3 728.8,368.6 729.7,369.0" fill="none" stroke="#333" stroke-width="0.7" />
<path d="M710.4,365.1 C711.2,365.7 713.2,367.8 715.3,369.0 C717.3,370.1 720.7,370.7 723.0,371.9 C725.2,373.0 727.8,375.1 728.8,375.7" fill="none" stroke="#333" stroke-width="0.6" />
<path d="M725.9,340.0 C725.6,341.9 724.6,347.7 723.9,351.6 C723.3,355.4 722.0,360.6 722.0,363.2 C722.0,365.7 723.6,366.4 723.9,367.0" fill="none" stroke="#333" stroke-width="0.6" />
<path d="M718.1,340.0 C717.8,341.6 716.6,346.4 715.8,349.7 C715.0,352.9 713.7,357.7 713.3,359.3" fill="none" stroke="#333" stroke-width="0.5" />
<path d="M729.4,369.0 L729.7,380.2" fill="none" stroke="#333" stroke-width="0.9" />
<path d="M730.4,369.2 L730.8,380.3" fill="none" stroke="#333" stroke-width="0.9" />
<path d="M731.5,369.4 L731.9,380.4" fill="none" stroke="#333" stroke-width="0.9" />
<path d="M732.5,369.7 L732.9,380.5" fill="none" stroke="#333" stroke-width="0.9" />
<path d="M733.6,369.9 L734.0,380.6" fill="none" stroke="#333" stroke-width="0.9" />
<path d="M734.7,370.1 L735.0,380.7" fill="none" stroke="#333" stroke-width="0.9" />
<path d="M735.7,370.4 L736.1,380.9" fill="none" stroke="#333" stroke-width="0.9" />
<path d="M736.8,370.6 L737.2,381.0" fill="none" stroke="#333" stroke-width="0.9" />
<path d="M737.8,370.8 L738.2,381.1" fill="none" stroke="#333" stroke-width="0.9" />
<path d="M728.8,368.6 L738.4,370.9" fill="none" stroke="#333" stroke-width="0.6" />
<path d="M729.2,380.2 L737.8,381.5" fill="none" stroke="#333" stroke-width="0.6" />
<path d="M738.4,373.8 C739.6,373.0 742.1,369.6 745.2,369.0 C748.2,368.3 753.9,368.3 756.8,369.9 C759.7,371.5 761.6,377.2 762.6,378.6" fill="none" stroke="#333" stroke-width="0.8" />
<path d="M762.6,378.6 L772.2,421.1 L770.3,425.9 L762.6,429.8 L757.7,427.9 L737.5,381.5 L738.4,373.8" fill="none" stroke="#333" stroke-width="0.8" />
<path d="M752.9,370.9 L758.3,378.6 L767.4,422.1 L762.6,429.8" fill="none" stroke="#333" stroke-width="0.6" />
<ellipse cx="742.2904596369254" cy="380.55619930475086" rx="2.3" ry="2.9" transform="rotate(0 742.2904596369254 380.55619930475086)" fill="none" stroke="#333" stroke-width="0.6"/>
<ellipse cx="742.2904596369254" cy="380.55619930475086" rx="1.2" ry="1.5" transform="rotate(0 742.2904596369254 380.55619930475086)" fill="none" stroke="#333" stroke-width="0.5"/>
<ellipse cx="762.5685592893009" cy="423.04364619544225" rx="3.0" ry="4.2" transform="rotate(-15 762.5685592893009 423.04364619544225)" fill="none" stroke="#333" stroke-width="0.6"/>
<ellipse cx="762.5685592893009" cy="423.04364619544225" rx="1.8" ry="2.8" transform="rotate(-15 762.5685592893009 423.04364619544225)" fill="none" stroke="#333" stroke-width="0.5"/>
<ellipse cx="755.2298184627269" cy="378.62495171881034" rx="1.8" ry="4.8" transform="rotate(-20 755.2298184627269 378.62495171881034)" fill="none" stroke="#333" stroke-width="0.6"/>
<path d="M281.30,267.88 L279.90,348.48 A7.0,7.0 0 0 0 293.90,348.72 L295.30,268.12 A7.0,7.0 0 0 0 281.30,267.88 Z" fill="#fff" stroke="#333" stroke-width="0.7" />
<path d="M280.00,267.48 L278.60,348.08 A7.0,7.0 0 0 0 292.60,348.32 L294.00,267.72 A7.0,7.0 0 0 0 280.00,267.48 Z" fill="#fff" stroke="#333" stroke-width="0.8" />
<ellipse cx="287.5" cy="270.8" rx="2.9" ry="4.0" transform="rotate(-5 287.5 270.8)" fill="none" stroke="#333" stroke-width="0.7"/>
<path d="M282.90,298.45 L282.20,345.95 A3.4,3.4 0 0 0 289.00,346.05 L289.70,298.55 A3.4,3.4 0 0 0 282.90,298.45 Z" fill="none" stroke="#333" stroke-width="0.7" />
<path d="M284.60,298.96 L283.90,345.46 A2.5,2.5 0 0 0 288.90,345.54 L289.60,299.04 A2.5,2.5 0 0 0 284.60,298.96 Z" fill="none" stroke="#333" stroke-width="0.5" />
<path d="M300.4,264.1 L302.2,259.1 L308.2,257.8 L313.0,263.1 L312.3,269.6 L308.7,273.4 L302.9,272.4 Z" fill="#fff" stroke="#333" stroke-width="0.7" />
<path d="M308.2,257.8 L309.3,264.6 L308.7,273.4" fill="none" stroke="#333" stroke-width="0.5" />
<path d="M309.3,264.6 L313.0,263.1" fill="none" stroke="#333" stroke-width="0.5" />
<ellipse cx="305.09999999999997" cy="265.8" rx="3.3" ry="4.6" transform="rotate(-10 305.09999999999997 265.8)" fill="none" stroke="#333" stroke-width="0.6"/>
<ellipse cx="304.8" cy="265.90000000000003" rx="2.2" ry="3.2" transform="rotate(-10 304.8 265.90000000000003)" fill="none" stroke="#333" stroke-width="0.5"/>
<path d="M304.3,263.3 L304.1,268.5" fill="none" stroke="#222" stroke-width="1.0" />
<path d="M303.2,263.6 L303.0,268.8" fill="none" stroke="#222" stroke-width="1.0" />
<path d="M302.1,263.9 L301.9,269.1" fill="none" stroke="#222" stroke-width="1.0" />
<path d="M301.0,264.2 L300.8,269.4" fill="none" stroke="#222" stroke-width="1.0" />
<path d="M299.9,264.5 L299.7,269.7" fill="none" stroke="#222" stroke-width="1.0" />
<path d="M298.8,264.8 L298.6,270.0" fill="none" stroke="#222" stroke-width="1.0" />
<path d="M258.1,338.7 L259.9,333.7 L265.9,332.4 L270.7,337.7 L270.0,344.2 L266.4,348.0 L260.6,347.0 Z" fill="#fff" stroke="#333" stroke-width="0.7" />
<path d="M259.9,333.7 L263.9,339.2 L260.6,347.0" fill="none" stroke="#333" stroke-width="0.5" />
<path d="M263.9,339.2 L270.7,337.7" fill="none" stroke="#333" stroke-width="0.5" />
<path d="M270.2,338.0 L270.4,343.2" fill="none" stroke="#222" stroke-width="1.0" />
<path d="M271.3,337.7 L271.5,342.9" fill="none" stroke="#222" stroke-width="1.0" />
<path d="M272.4,337.4 L272.6,342.6" fill="none" stroke="#222" stroke-width="1.0" />
<path d="M273.5,337.1 L273.7,342.3" fill="none" stroke="#222" stroke-width="1.0" />
<path d="M274.6,336.8 L274.8,342.0" fill="none" stroke="#222" stroke-width="1.0" />
<path d="M577.82,202.31 L572.62,279.51 A7.3,7.3 0 0 0 587.18,280.49 L592.38,203.29 A7.3,7.3 0 0 0 577.82,202.31 Z" fill="#fff" stroke="#333" stroke-width="0.7" />
<path d="M576.52,201.91 L571.32,279.11 A7.3,7.3 0 0 0 585.88,280.09 L591.08,202.89 A7.3,7.3 0 0 0 576.52,201.91 Z" fill="#fff" stroke="#333" stroke-width="0.8" />
<ellipse cx="583.8" cy="204.2" rx="2.9" ry="4.0" transform="rotate(-5 583.8 204.2)" fill="none" stroke="#333" stroke-width="0.7"/>
<path d="M577.60,232.83 L575.40,277.33 A3.4,3.4 0 0 0 582.20,277.67 L584.40,233.17 A3.4,3.4 0 0 0 577.60,232.83 Z" fill="none" stroke="#333" stroke-width="0.7" />
<path d="M579.30,233.37 L577.10,276.87 A2.5,2.5 0 0 0 582.10,277.13 L584.30,233.63 A2.5,2.5 0 0 0 579.30,233.37 Z" fill="none" stroke="#333" stroke-width="0.5" />
<path d="M548.3,211.1 L550.1,206.1 L556.1,204.8 L560.9,210.1 L560.2,216.6 L556.6,220.4 L550.8,219.4 Z" fill="#fff" stroke="#333" stroke-width="0.7" />
<path d="M550.1,206.1 L554.1,211.6 L550.8,219.4" fill="none" stroke="#333" stroke-width="0.5" />
<path d="M554.1,211.6 L560.9,210.1" fill="none" stroke="#333" stroke-width="0.5" />
<path d="M560.4,210.4 L560.6,215.6" fill="none" stroke="#222" stroke-width="1.0" />
<path d="M561.5,210.1 L561.7,215.3" fill="none" stroke="#222" stroke-width="1.0" />
<path d="M562.6,209.8 L562.8,215.0" fill="none" stroke="#222" stroke-width="1.0" />
<path d="M563.7,209.5 L563.9,214.7" fill="none" stroke="#222" stroke-width="1.0" />
<path d="M564.8,209.2 L565.0,214.4" fill="none" stroke="#222" stroke-width="1.0" />
<path d="M616.3,258.7 L618.1,253.7 L624.1,252.4 L628.9,257.7 L628.2,264.2 L624.6,268.0 L618.8,267.0 Z" fill="#fff" stroke="#333" stroke-width="0.7" />
<path d="M624.1,252.4 L625.2,259.2 L624.6,268.0" fill="none" stroke="#333" stroke-width="0.5" />
<path d="M625.2,259.2 L628.9,257.7" fill="none" stroke="#333" stroke-width="0.5" />
<ellipse cx="621.0" cy="260.4" rx="3.3" ry="4.6" transform="rotate(-10 621.0 260.4)" fill="none" stroke="#333" stroke-width="0.6"/>
<ellipse cx="620.7" cy="260.5" rx="2.2" ry="3.2" transform="rotate(-10 620.7 260.5)" fill="none" stroke="#333" stroke-width="0.5"/>
<path d="M620.2,257.9 L620.0,263.1" fill="none" stroke="#222" stroke-width="1.0" />
<path d="M619.1,258.2 L618.9,263.4" fill="none" stroke="#222" stroke-width="1.0" />
<path d="M618.0,258.5 L617.8,263.7" fill="none" stroke="#222" stroke-width="1.0" />
<path d="M616.9,258.8 L616.7,264.0" fill="none" stroke="#222" stroke-width="1.0" />
<path d="M615.8,259.1 L615.6,264.3" fill="none" stroke="#222" stroke-width="1.0" />
<path d="M614.7,259.4 L614.5,264.6" fill="none" stroke="#222" stroke-width="1.0" />
<ellipse cx="336.18411000763945" cy="411.87929717341484" rx="11.6" ry="15.6" transform="rotate(-10 336.18411000763945 411.87929717341484)" fill="#fff" stroke="#333" stroke-width="0.7"/>
<ellipse cx="334.5841100076394" cy="412.2792971734148" rx="11.6" ry="15.6" transform="rotate(-10 334.5841100076394 412.2792971734148)" fill="#fff" stroke="#333" stroke-width="0.7"/>
<ellipse cx="335.18411000763945" cy="412.07929717341483" rx="6.4" ry="9.2" transform="rotate(-10 335.18411000763945 412.07929717341483)" fill="none" stroke="#333" stroke-width="0.6"/>
<path d="M336.9,420.6 C336.7,420.6 336.3,420.5 336.0,420.4 C335.7,420.4 335.4,420.3 335.2,420.1 C334.9,420.0 334.6,419.8 334.3,419.6 C334.1,419.5 333.8,419.2 333.6,419.0 C333.3,418.8 333.1,418.5 332.8,418.2 C332.6,418.0 332.4,417.7 332.2,417.4 C332.0,417.0 331.8,416.7 331.6,416.4 C331.4,416.0 331.3,415.6 331.1,415.3 C331.0,414.9 330.9,414.5 330.7,414.1 C330.6,413.7 330.5,413.3 330.5,412.9 C330.4,412.5 330.4,412.1 330.3,411.7 C330.3,411.3 330.3,410.9 330.3,410.5 C330.3,410.1 330.3,409.7 330.4,409.3 C330.4,408.9 330.5,408.5 330.6,408.2 C330.6,407.8 330.8,407.4 330.9,407.1 C331.0,406.8 331.1,406.4 331.3,406.1 C331.5,405.8 331.6,405.5 331.8,405.3 C332.0,405.0 332.2,404.8 332.4,404.5 C332.6,404.3 332.9,404.1 333.1,404.0 C333.3,403.8 333.7,403.6 333.9,403.5" fill="none" stroke="#333" stroke-width="0.5" />
<ellipse cx="330.22536287242167" cy="413.40718105423986" rx="10.6" ry="14.8" transform="rotate(-10 330.22536287242167 413.40718105423986)" fill="#fff" stroke="#333" stroke-width="0.7"/>
<ellipse cx="328.0253628724217" cy="414.0071810542399" rx="10.6" ry="14.8" transform="rotate(-10 328.0253628724217 414.0071810542399)" fill="#fff" stroke="#333" stroke-width="0.7"/>
<ellipse cx="323.961038961039" cy="415.39343009931247" rx="8.6" ry="12.4" transform="rotate(-10 323.961038961039 415.39343009931247)" fill="#fff" stroke="#333" stroke-width="0.7"/>
<ellipse cx="318.1216195569137" cy="416.82689075630253" rx="11.9" ry="15.9" transform="rotate(-10 318.1216195569137 416.82689075630253)" fill="#fff" stroke="#333" stroke-width="0.7"/>
<ellipse cx="316.3216195569137" cy="417.2268907563025" rx="11.9" ry="15.9" transform="rotate(-10 316.3216195569137 417.2268907563025)" fill="#fff" stroke="#333" stroke-width="0.8"/>
<ellipse cx="316.3216195569137" cy="417.2268907563025" rx="6.9" ry="9.6" transform="rotate(-10 316.3216195569137 417.2268907563025)" fill="none" stroke="#333" stroke-width="0.7"/>
<path d="M318.7,426.4 C318.5,426.4 318.0,426.5 317.7,426.4 C317.4,426.4 317.0,426.3 316.7,426.2 C316.4,426.1 316.0,425.9 315.7,425.7 C315.4,425.6 315.1,425.4 314.8,425.1 C314.5,424.9 314.2,424.6 313.9,424.4 C313.6,424.1 313.3,423.8 313.1,423.4 C312.8,423.1 312.6,422.8 312.4,422.4 C312.2,422.0 312.0,421.6 311.8,421.2 C311.6,420.8 311.4,420.4 311.3,420.0 C311.1,419.5 311.0,419.1 310.9,418.6 C310.8,418.2 310.8,417.7 310.7,417.3 C310.7,416.8 310.6,416.4 310.6,415.9 C310.6,415.5 310.6,415.0 310.7,414.6 C310.7,414.2 310.8,413.7 310.9,413.3 C311.0,412.9 311.1,412.5 311.2,412.1 C311.4,411.7 311.5,411.3 311.7,411.0 C311.9,410.6 312.1,410.3 312.3,410.0 C312.5,409.7 312.7,409.4 313.0,409.1 C313.2,408.9 313.5,408.6 313.8,408.4 C314.1,408.2 314.3,408.0 314.6,407.9 C314.9,407.8 315.3,407.6 315.6,407.6 C315.9,407.5 316.4,407.4 316.6,407.4" fill="none" stroke="#333" stroke-width="0.5" />
<ellipse cx="367.5057295645531" cy="402.253628724217" rx="8.6" ry="12.4" transform="rotate(-10 367.5057295645531 402.253628724217)" fill="#fff" stroke="#333" stroke-width="0.7"/>
<path d="M350.8,393.9 L365.4,390.0 L369.7,414.5 L355.2,418.5 Z" fill="#fff" stroke="#fff" stroke-width="0.1" />
<path d="M350.8,393.9 L365.4,390.0" fill="none" stroke="#333" stroke-width="0.7" />
<path d="M355.2,418.5 L369.7,414.5" fill="none" stroke="#333" stroke-width="0.7" />
<path d="M361.85,391.04 A8.6,12.4 -10 0 1 366.16,415.47" fill="none" stroke="#333" stroke-width="0.6" />
<path d="M358.8,391.8 L363.4,390.6" fill="none" stroke="#333" stroke-width="0.5" />
<path d="M359.4,391.8 L363.4,391.1" fill="none" stroke="#333" stroke-width="0.5" />
<path d="M360.0,391.8 L363.5,391.6" fill="none" stroke="#333" stroke-width="0.5" />
<ellipse cx="352.9908326967151" cy="406.2261268143621" rx="8.7" ry="12.5" transform="rotate(-10 352.9908326967151 406.2261268143621)" fill="#fff" stroke="#333" stroke-width="0.8"/>
<ellipse cx="352.9908326967151" cy="406.2261268143621" rx="7.0" ry="10.4" transform="rotate(-10 352.9908326967151 406.2261268143621)" fill="none" stroke="#333" stroke-width="0.7"/>
<ellipse cx="622.1581359816654" cy="327.4331550802139" rx="11.8" ry="15.6" transform="rotate(-10 622.1581359816654 327.4331550802139)" fill="#fff" stroke="#333" stroke-width="0.7"/>
<ellipse cx="620.5581359816654" cy="327.8331550802139" rx="11.8" ry="15.6" transform="rotate(-10 620.5581359816654 327.8331550802139)" fill="#fff" stroke="#333" stroke-width="0.7"/>
<ellipse cx="621.5581359816654" cy="327.6331550802139" rx="6.6" ry="9.4" transform="rotate(-10 621.5581359816654 327.6331550802139)" fill="none" stroke="#333" stroke-width="0.6"/>
<path d="M623.2,336.3 C623.1,336.3 622.6,336.3 622.4,336.2 C622.1,336.1 621.8,336.0 621.5,335.9 C621.2,335.7 620.9,335.6 620.6,335.4 C620.4,335.2 620.1,335.0 619.8,334.7 C619.6,334.5 619.3,334.2 619.1,334.0 C618.8,333.7 618.6,333.4 618.4,333.0 C618.2,332.7 618.0,332.4 617.8,332.0 C617.6,331.7 617.5,331.3 617.3,330.9 C617.2,330.5 617.0,330.1 616.9,329.7 C616.8,329.3 616.7,328.9 616.7,328.5 C616.6,328.1 616.5,327.7 616.5,327.3 C616.5,326.9 616.4,326.4 616.5,326.0 C616.5,325.6 616.5,325.2 616.5,324.8 C616.6,324.4 616.7,324.0 616.8,323.6 C616.8,323.3 616.9,322.9 617.1,322.6 C617.2,322.2 617.3,321.9 617.5,321.6 C617.7,321.3 617.9,321.0 618.0,320.7 C618.2,320.4 618.5,320.2 618.7,319.9 C618.9,319.7 619.1,319.5 619.4,319.3 C619.6,319.2 620.0,319.0 620.2,318.9" fill="none" stroke="#333" stroke-width="0.5" />
<ellipse cx="616.1993888464476" cy="328.80825057295647" rx="10.8" ry="14.8" transform="rotate(-10 616.1993888464476 328.80825057295647)" fill="#fff" stroke="#333" stroke-width="0.7"/>
<ellipse cx="614.1993888464476" cy="329.30825057295647" rx="10.8" ry="14.8" transform="rotate(-10 614.1993888464476 329.30825057295647)" fill="#fff" stroke="#333" stroke-width="0.7"/>
<ellipse cx="612.2268907563025" cy="330.0305576776165" rx="9.0" ry="12.6" transform="rotate(-10 612.2268907563025 330.0305576776165)" fill="#fff" stroke="#333" stroke-width="0.6"/>
<ellipse cx="609.4432391138273" cy="331.1584415584416" rx="12.2" ry="15.7" transform="rotate(-10 609.4432391138273 331.1584415584416)" fill="#fff" stroke="#333" stroke-width="0.7"/>
<ellipse cx="607.6432391138273" cy="331.5584415584416" rx="12.2" ry="15.7" transform="rotate(-10 607.6432391138273 331.5584415584416)" fill="#fff" stroke="#333" stroke-width="0.8"/>
<ellipse cx="607.6432391138273" cy="331.5584415584416" rx="7.3" ry="10.0" transform="rotate(-10 607.6432391138273 331.5584415584416)" fill="none" stroke="#333" stroke-width="0.7"/>
<path d="M610.0,341.2 C609.9,341.2 609.3,341.2 609.0,341.1 C608.6,341.1 608.3,341.0 607.9,340.9 C607.6,340.8 607.2,340.6 606.9,340.5 C606.6,340.3 606.2,340.1 605.9,339.8 C605.6,339.6 605.3,339.3 605.0,339.0 C604.7,338.7 604.4,338.4 604.1,338.1 C603.9,337.7 603.6,337.3 603.4,337.0 C603.2,336.6 602.9,336.2 602.7,335.7 C602.6,335.3 602.4,334.9 602.2,334.4 C602.1,334.0 602.0,333.5 601.9,333.1 C601.8,332.6 601.7,332.1 601.6,331.7 C601.6,331.2 601.6,330.7 601.5,330.2 C601.5,329.8 601.6,329.3 601.6,328.9 C601.7,328.4 601.7,327.9 601.8,327.5 C601.9,327.1 602.1,326.6 602.2,326.2 C602.3,325.8 602.5,325.4 602.7,325.1 C602.9,324.7 603.1,324.3 603.3,324.0 C603.5,323.7 603.8,323.4 604.1,323.1 C604.3,322.9 604.6,322.6 604.9,322.4 C605.2,322.2 605.5,322.0 605.8,321.9 C606.1,321.7 606.5,321.6 606.8,321.5 C607.1,321.4 607.7,321.4 607.8,321.3" fill="none" stroke="#333" stroke-width="0.5" />
<ellipse cx="586.5584415584416" cy="336.60045836516423" rx="8.6" ry="12.0" transform="rotate(-10 586.5584415584416 336.60045836516423)" fill="#fff" stroke="#333" stroke-width="0.7"/>
<ellipse cx="584.7584415584416" cy="337.10045836516423" rx="8.6" ry="12.0" transform="rotate(-10 584.7584415584416 337.10045836516423)" fill="#fff" stroke="#333" stroke-width="0.7"/>
<path d="M570.6,330.6 L579.8,328.0 L583.5,349.1 L574.4,351.7 Z" fill="#fff" stroke="#fff" stroke-width="0.1" />
<ellipse cx="581.6692131398014" cy="338.58670741023684" rx="7.6" ry="10.7" transform="rotate(-10 581.6692131398014 338.58670741023684)" fill="#fff" stroke="#333" stroke-width="0.6"/>
<path d="M570.6,330.6 L579.8,328.0" fill="none" stroke="#333" stroke-width="0.7" />
<path d="M574.4,351.7 L583.5,349.1" fill="none" stroke="#333" stroke-width="0.7" />
<path d="M577.61,328.65 A7.6,10.7 -10 0 1 581.33,349.72" fill="none" stroke="#333" stroke-width="0.5" />
<ellipse cx="572.5019098548511" cy="341.18411000763945" rx="8.0" ry="10.7" transform="rotate(-10 572.5019098548511 341.18411000763945)" fill="#fff" stroke="#333" stroke-width="0.8"/>
<ellipse cx="572.5019098548511" cy="341.18411000763945" rx="6.8" ry="9.4" transform="rotate(-10 572.5019098548511 341.18411000763945)" fill="none" stroke="#333" stroke-width="0.6"/>
<path d="M298.1,395.5 C298.5,396.6 299.7,399.4 300.3,401.9 C300.9,404.5 301.3,407.8 301.8,411.1 C302.3,414.4 302.3,418.2 303.3,421.8 C304.4,425.4 305.4,428.9 307.9,432.5 C310.5,436.1 314.0,440.1 318.6,443.2 C323.2,446.3 328.2,448.7 335.4,450.8 C342.7,453.0 353.2,456.0 362.0,456.2 C370.8,456.4 378.3,453.9 388.0,452.3 C397.7,450.7 410.5,448.3 420.0,446.5 C429.5,444.7 436.7,443.3 445.0,441.5 C453.3,439.7 462.5,437.2 470.0,435.5 C477.5,433.8 483.2,432.3 490.0,431.0 C496.8,429.7 505.7,429.0 510.6,427.5 C515.5,426.1 516.9,424.4 519.2,422.4 C521.5,420.4 523.1,418.2 524.3,415.5 C525.6,412.8 526.3,409.1 526.6,406.1 C526.8,403.0 525.9,398.9 525.7,397.5" fill="none" stroke="#333" stroke-width="0.7" />
<path d="M299.0,396.6 C299.4,397.7 300.6,400.5 301.2,403.0 C301.8,405.6 302.2,408.9 302.7,412.2 C303.2,415.5 303.2,419.3 304.2,422.9 C305.3,426.5 306.3,430.0 308.8,433.6 C311.4,437.2 314.9,441.2 319.5,444.3 C324.1,447.4 329.1,449.8 336.3,451.9 C343.6,454.1 354.1,457.1 362.9,457.3 C371.7,457.5 379.2,455.0 388.9,453.4 C398.6,451.8 411.4,449.4 420.9,447.6 C430.4,445.8 437.6,444.4 445.9,442.6 C454.2,440.8 463.4,438.4 470.9,436.6 C478.4,434.9 484.1,433.4 490.9,432.1 C497.7,430.8 506.6,430.1 511.5,428.6 C516.4,427.2 517.8,425.5 520.1,423.5 C522.4,421.5 524.0,419.3 525.2,416.6 C526.5,413.9 527.2,410.2 527.5,407.2 C527.7,404.1 526.8,400.0 526.6,398.6" fill="none" stroke="#333" stroke-width="0.6" />
<ellipse cx="297.3" cy="392.2" rx="3.2" ry="4.5" transform="rotate(-10 297.3 392.2)" fill="#fff" stroke="#333" stroke-width="0.7"/>
<ellipse cx="297.3" cy="392.2" rx="1.2" ry="1.7" transform="rotate(-10 297.3 392.2)" fill="none" stroke="#333" stroke-width="0.5"/>
<ellipse cx="525.1931330472103" cy="391.9742489270386" rx="5.3" ry="4.0" transform="rotate(-10 525.1931330472103 391.9742489270386)" fill="#fff" stroke="#333" stroke-width="0.7"/>
<ellipse cx="525.1931330472103" cy="391.9742489270386" rx="2.0" ry="1.5" transform="rotate(-10 525.1931330472103 391.9742489270386)" fill="none" stroke="#333" stroke-width="0.5"/>
<path d="M524.3,395.8 L525.2,398.3 L526.7,398.0 L526.4,395.4" fill="none" stroke="#333" stroke-width="0.6" />
<path d="M309.69,389.93 L321.15,387.03 A1.0,1.0 0 0 0 320.66,385.09 L309.20,387.99 A1.0,1.0 0 0 0 309.69,389.93 Z" fill="#fff" stroke="#333" stroke-width="0.6" />
<path d="M309.4,389.0 L312.4,388.2" fill="none" stroke="#333" stroke-width="1.6" />
<ellipse cx="321.20527119938885" cy="386.05805958747135" rx="0.9" ry="1.8" transform="rotate(-10 321.20527119938885 386.05805958747135)" fill="none" stroke="#333" stroke-width="0.6"/>
<path d="M537.99,404.01 L550.69,413.28 A1.3,1.3 0 0 0 552.23,411.18 L539.52,401.91 A1.3,1.3 0 0 0 537.99,404.01 Z" fill="#fff" stroke="#333" stroke-width="0.6" />
<path d="M537.9,404.1 L539.6,401.8" fill="none" stroke="#333" stroke-width="0.8" />
<path d="M538.9,404.8 L540.5,402.5" fill="none" stroke="#333" stroke-width="0.8" />
<path d="M539.9,405.5 L541.5,403.2" fill="none" stroke="#333" stroke-width="0.8" />
<path d="M540.8,406.2 L542.5,404.0" fill="none" stroke="#333" stroke-width="0.8" />
<path d="M541.8,406.9 L543.5,404.7" fill="none" stroke="#333" stroke-width="0.8" />
<ellipse cx="551.4592274678112" cy="412.23175965665234" rx="1.6" ry="3.4" transform="rotate(36.11934084947978 551.4592274678112 412.23175965665234)" fill="#fff" stroke="#333" stroke-width="0.7"/>
<ellipse cx="552.4285766052423" cy="412.93912254072364" rx="1.4" ry="3.0" transform="rotate(36.11934084947978 552.4285766052423 412.93912254072364)" fill="#fff" stroke="#333" stroke-width="0.6"/>
<path d="M576.28,386.51 L589.67,396.12 A1.3,1.3 0 0 0 591.19,394.01 L577.80,384.39 A1.3,1.3 0 0 0 576.28,386.51 Z" fill="#fff" stroke="#333" stroke-width="0.6" />
<path d="M576.2,386.6 L577.9,384.3" fill="none" stroke="#333" stroke-width="0.8" />
<path d="M577.2,387.3 L578.8,385.0" fill="none" stroke="#333" stroke-width="0.8" />
<path d="M578.2,388.0 L579.8,385.7" fill="none" stroke="#333" stroke-width="0.8" />
<path d="M579.1,388.7 L580.8,386.4" fill="none" stroke="#333" stroke-width="0.8" />
<path d="M580.1,389.4 L581.8,387.1" fill="none" stroke="#333" stroke-width="0.8" />
<ellipse cx="590.4291845493563" cy="395.06437768240346" rx="1.6" ry="3.4" transform="rotate(35.67640822186199 590.4291845493563 395.06437768240346)" fill="#fff" stroke="#333" stroke-width="0.7"/>
<ellipse cx="591.4039730296662" cy="395.76422582211313" rx="1.4" ry="3.0" transform="rotate(35.67640822186199 591.4039730296662 395.76422582211313)" fill="#fff" stroke="#333" stroke-width="0.6"/>
<path d="M575.57,462.02 L640.12,443.99 A4.1,4.1 0 0 0 637.91,436.09 L573.36,454.12 A4.1,4.1 0 0 0 575.57,462.02 Z" fill="#fff" stroke="#333" stroke-width="0.8" />
<ellipse cx="574.6635193133047" cy="458.068669527897" rx="3.3" ry="4.3" transform="rotate(-15 574.6635193133047 458.068669527897)" fill="#fff" stroke="#333" stroke-width="0.8"/>
<ellipse cx="574.4635193133047" cy="458.068669527897" rx="1.9" ry="2.6" transform="rotate(-15 574.4635193133047 458.068669527897)" fill="none" stroke="#333" stroke-width="0.7"/>
<path d="M598.44,548.46 L719.31,516.12 A2.6,2.6 0 0 0 717.97,511.10 L597.10,543.44 A2.6,2.6 0 0 0 598.44,548.46 Z" fill="#fff" stroke="#333" stroke-width="0.7" />
<path d="M597.8,543.4 L609.6,540.5 L610.0,542.4" fill="none" stroke="#333" stroke-width="0.6" />
<ellipse cx="597.7714825306894" cy="545.9490084985836" rx="1.5" ry="2.4" transform="rotate(-15 597.7714825306894 545.9490084985836)" fill="none" stroke="#333" stroke-width="0.6"/>
<path d="M688.7,514.8 L704.5,511.7 L706.8,520.2 L691.3,526.8 Z" fill="#fff" stroke="#333" stroke-width="0.7" />
<path d="M689.4,515.0 L691.7,526.4" fill="none" stroke="#333" stroke-width="1.1" />
<path d="M691.5,514.6 L693.9,525.5" fill="none" stroke="#333" stroke-width="1.1" />
<path d="M693.6,514.2 L696.0,524.7" fill="none" stroke="#333" stroke-width="1.1" />
<path d="M695.7,513.7 L698.1,523.8" fill="none" stroke="#333" stroke-width="1.1" />
<path d="M697.9,513.3 L700.2,523.0" fill="none" stroke="#333" stroke-width="1.1" />
<path d="M700.0,512.9 L702.4,522.1" fill="none" stroke="#333" stroke-width="1.1" />
<path d="M702.1,512.5 L704.5,521.3" fill="none" stroke="#333" stroke-width="1.1" />
<path d="M704.2,512.0 L706.6,520.4" fill="none" stroke="#333" stroke-width="1.1" />
<path d="M715.8,510.8 C717.0,510.6 720.9,509.4 722.9,509.8 C724.9,510.3 727.0,511.8 727.6,513.6 C728.2,515.4 727.4,517.9 726.7,520.7 C726.0,523.5 724.6,528.6 723.4,530.6 C722.1,532.6 720.4,532.7 719.3,532.5 C718.3,532.3 716.9,531.4 717.0,529.2 C717.1,527.0 719.5,521.9 720.1,519.5 C720.6,517.1 720.5,515.4 720.5,514.6" fill="#fff" stroke="#333" stroke-width="0.7" />
<ellipse cx="720.056657223796" cy="514.0793201133145" rx="1.1" ry="1.9" transform="rotate(0 720.056657223796 514.0793201133145)" fill="none" stroke="#333" stroke-width="0.5"/>
<path d="M602.5,547.8 L610.3,555.9" fill="none" stroke="#333" stroke-width="0.7" />
<path d="M608.2,553.7 L610.5,556.3" fill="none" stroke="#333" stroke-width="1.8" />
<path d="M583.1,542.4 L587.9,545.5 L576.5,567.9 L573.7,565.5 Z" fill="#fff" stroke="#333" stroke-width="0.7" />
<path d="M583.1,542.4 L581.7,551.4 L576.5,567.9" fill="none" stroke="#333" stroke-width="0.5" />
<path d="M673.49,572.68 L752.34,551.43 A2.5,2.5 0 0 0 751.04,546.60 L672.19,567.85 A2.5,2.5 0 0 0 673.49,572.68 Z" fill="#fff" stroke="#333" stroke-width="0.7" />
<path d="M672.8,568.4 L673.6,573.1" fill="none" stroke="#444" stroke-width="0.9" />
<path d="M674.4,568.0 L675.1,572.7" fill="none" stroke="#444" stroke-width="0.9" />
<path d="M675.9,567.6 L676.6,572.3" fill="none" stroke="#444" stroke-width="0.9" />
<path d="M677.4,567.2 L678.2,571.9" fill="none" stroke="#444" stroke-width="0.9" />
<path d="M679.0,566.8 L679.7,571.5" fill="none" stroke="#444" stroke-width="0.9" />
<path d="M680.5,566.4 L681.2,571.1" fill="none" stroke="#444" stroke-width="0.9" />
<path d="M682.0,566.0 L682.8,570.7" fill="none" stroke="#444" stroke-width="0.9" />
<path d="M749.6,545.7 L754.1,543.6 L758.8,546.2 L759.7,550.9 L755.9,553.7 L751.2,553.3 Z" fill="#fff" stroke="#333" stroke-width="0.7" />
<path d="M754.1,543.6 L755.0,548.5 L759.7,550.9" fill="none" stroke="#333" stroke-width="0.5" />
<path d="M755.0,548.5 L751.2,553.3" fill="none" stroke="#333" stroke-width="0.5" />
<ellipse cx="252.8" cy="527.9" rx="10.9" ry="15.4" transform="rotate(-10 252.8 527.9)" fill="#fff" stroke="#333" stroke-width="0.8"/>
<ellipse cx="253.6" cy="527.9" rx="9.2" ry="13.4" transform="rotate(-10 253.6 527.9)" fill="none" stroke="#333" stroke-width="0.6"/>
<ellipse cx="252.2" cy="528.2" rx="10.5" ry="15.0" transform="rotate(-10 252.2 528.2)" fill="none" stroke="#333" stroke-width="0.5"/>
<ellipse cx="254.4" cy="528.4" rx="4.6" ry="6.6" transform="rotate(-10 254.4 528.4)" fill="none" stroke="#333" stroke-width="0.6"/>
<ellipse cx="254.4" cy="528.4" rx="1.8" ry="2.6" transform="rotate(-10 254.4 528.4)" fill="none" stroke="#333" stroke-width="0.6"/>
<ellipse cx="191.9" cy="564.2" rx="3.2" ry="4.8" transform="rotate(-20 191.9 564.2)" fill="#fff" stroke="#333" stroke-width="0.7"/>
<ellipse cx="192.0" cy="564.3" rx="2.0" ry="3.3" transform="rotate(-20 192.0 564.3)" fill="none" stroke="#333" stroke-width="0.6"/>
<ellipse cx="191.0" cy="564.5" rx="3.2" ry="4.8" transform="rotate(-20 191.0 564.5)" fill="none" stroke="#333" stroke-width="0.5"/>
<path d="M176.6,566.0 L179.8,563.2 L184.6,564.0 L187.0,568.0 L186.2,572.2 L181.8,574.2 L177.8,571.8 Z" fill="#fff" stroke="#333" stroke-width="0.7" />
<ellipse cx="180.7" cy="568.2" rx="2.9" ry="3.8" transform="rotate(-15 180.7 568.2)" fill="none" stroke="#333" stroke-width="0.6"/>
<ellipse cx="180.7" cy="568.2" rx="1.8" ry="2.6" transform="rotate(-15 180.7 568.2)" fill="none" stroke="#333" stroke-width="0.5"/>
<path d="M184.6,564.0 L183.6,569.1 L181.8,574.2" fill="none" stroke="#333" stroke-width="0.5" />
<path d="M278.0,611.5 L311.5,620.6 L309.8,632.9 L277.2,621.8 Z" fill="#fff" stroke="#333" stroke-width="0.7" />
<path d="M278.2,611.8 L277.2,621.9" fill="none" stroke="#333" stroke-width="0.9" />
<path d="M280.2,612.4 L279.1,622.6" fill="none" stroke="#333" stroke-width="0.9" />
<path d="M282.1,612.9 L281.1,623.3" fill="none" stroke="#333" stroke-width="0.9" />
<path d="M284.1,613.5 L283.1,624.0" fill="none" stroke="#333" stroke-width="0.9" />
<path d="M286.1,614.0 L285.1,624.7" fill="none" stroke="#333" stroke-width="0.9" />
<path d="M288.1,614.5 L287.0,625.4" fill="none" stroke="#333" stroke-width="0.9" />
<path d="M290.0,615.1 L289.0,626.1" fill="none" stroke="#333" stroke-width="0.9" />
<path d="M292.0,615.6 L291.0,626.7" fill="none" stroke="#333" stroke-width="0.9" />
<path d="M294.0,616.2 L293.0,627.4" fill="none" stroke="#333" stroke-width="0.9" />
<path d="M296.0,616.7 L294.9,628.1" fill="none" stroke="#333" stroke-width="0.9" />
<path d="M297.9,617.3 L296.9,628.8" fill="none" stroke="#333" stroke-width="0.9" />
<path d="M299.9,617.8 L298.9,629.5" fill="none" stroke="#333" stroke-width="0.9" />
<path d="M301.9,618.4 L300.9,630.2" fill="none" stroke="#333" stroke-width="0.9" />
<path d="M303.9,618.9 L302.8,630.9" fill="none" stroke="#333" stroke-width="0.9" />
<path d="M305.8,619.5 L304.8,631.5" fill="none" stroke="#333" stroke-width="0.9" />
<path d="M307.8,620.0 L306.8,632.2" fill="none" stroke="#333" stroke-width="0.9" />
<path d="M309.8,620.6 L308.8,632.9" fill="none" stroke="#333" stroke-width="0.9" />
<path d="M278.0,611.5 C277.7,611.7 276.4,612.5 275.8,613.2 C275.2,613.9 274.5,614.7 274.4,615.8 C274.3,616.8 274.6,618.2 275.1,619.2 C275.6,620.2 276.8,621.3 277.2,621.8" fill="#fff" stroke="#333" stroke-width="0.7" />
<path d="M310.6,620.9 L316.7,618.8 L323.9,621.6 L324.4,635.5 L318.4,637.4 L311.5,635.0 Z" fill="#fff" stroke="#333" stroke-width="0.7" />
<path d="M310.6,620.9 L314.6,623.6 L323.9,621.6" fill="none" stroke="#333" stroke-width="0.5" />
<path d="M314.6,623.6 L314.9,636.0" fill="none" stroke="#333" stroke-width="0.5" />
<ellipse cx="317.51072961373393" cy="629.4849785407725" rx="1.0" ry="1.4" transform="rotate(0 317.51072961373393 629.4849785407725)" fill="none" stroke="#333" stroke-width="0.5"/>
<path d="M347.2,644.6 C347.1,643.8 346.3,641.4 346.7,639.8 C347.1,638.2 348.0,636.2 349.6,635.0 C351.2,633.7 353.9,632.9 356.1,632.2 C358.4,631.6 361.1,630.9 363.0,631.2 C364.9,631.5 366.6,633.5 367.3,633.9" fill="none" stroke="#333" stroke-width="0.8" />
<path d="M347.2,644.6 L346.7,639.8 L349.6,635.0 L356.1,632.2 L363.0,631.2 L367.3,633.9 L386.7,681.0 L385.3,685.3 L378.5,689.6 L374.2,689.2 Z" fill="#fff" stroke="#fff" stroke-width="0.1" />
<path d="M347.2,644.6 C347.1,643.8 346.3,641.4 346.7,639.8 C347.1,638.2 348.0,636.2 349.6,635.0 C351.2,633.7 353.9,632.9 356.1,632.2 C358.4,631.6 361.1,630.9 363.0,631.2 C364.9,631.5 366.6,633.5 367.3,633.9" fill="none" stroke="#333" stroke-width="0.8" />
<path d="M367.3,633.9 L386.7,681.0 L385.3,685.3 L378.5,689.6 L374.2,689.2 L347.2,644.6" fill="none" stroke="#333" stroke-width="0.8" />
<path d="M360.9,632.2 L365.1,636.4 L383.9,682.7 L378.5,689.6" fill="none" stroke="#333" stroke-width="0.6" />
<ellipse cx="352.7038626609442" cy="642.3605150214593" rx="2.2" ry="2.8" transform="rotate(0 352.7038626609442 642.3605150214593)" fill="none" stroke="#333" stroke-width="0.6"/>
<ellipse cx="352.7038626609442" cy="642.3605150214593" rx="1.2" ry="1.6" transform="rotate(0 352.7038626609442 642.3605150214593)" fill="none" stroke="#333" stroke-width="0.5"/>
<ellipse cx="376.05150214592277" cy="682.0171673819742" rx="2.8" ry="3.9" transform="rotate(-20 376.05150214592277 682.0171673819742)" fill="none" stroke="#333" stroke-width="0.6"/>
<ellipse cx="376.3948497854077" cy="682.7038626609442" rx="1.8" ry="2.6" transform="rotate(-20 376.3948497854077 682.7038626609442)" fill="none" stroke="#333" stroke-width="0.5"/>
<path d="M362.05,636.64 L365.31,644.20 A1.6,1.6 0 0 0 368.25,642.93 L364.99,635.37 A1.6,1.6 0 0 0 362.05,636.64 Z" fill="none" stroke="#333" stroke-width="0.6" />
<path d="M380.75,636.79 L391.40,633.35 A1.9,1.9 0 0 0 390.23,629.74 L379.59,633.17 A1.9,1.9 0 0 0 380.75,636.79 Z" fill="#fff" stroke="#333" stroke-width="0.7" />
<ellipse cx="380.17167381974247" cy="634.9785407725321" rx="1.1" ry="1.9" transform="rotate(-15 380.17167381974247 634.9785407725321)" fill="none" stroke="#333" stroke-width="0.5"/>
<path d="M775.3,279.4 L776.7,275.6 L782.8,272.8 L790.0,269.4 L800.0,278.9 L800.9,289.4 L798.9,295.6 L793.3,297.8 L785.6,300.6 L777.2,292.2 L775.3,286.1 Z" fill="#fff" stroke="#333" stroke-width="0.8" />
<path d="M790.0,269.4 L795.0,281.7 L795.6,295.9" fill="none" stroke="#333" stroke-width="0.6" />
<path d="M795.0,281.7 L800.0,278.9" fill="none" stroke="#333" stroke-width="0.6" />
<path d="M776.7,275.6 L784.4,273.3 L791.7,276.3 L795.0,281.7" fill="none" stroke="#333" stroke-width="0.5" />
<ellipse cx="785.3" cy="285.9" rx="6.9" ry="10.2" transform="rotate(-12 785.3 285.9)" fill="none" stroke="#333" stroke-width="0.7"/>
<ellipse cx="785.6" cy="286.1" rx="5.4" ry="8.4" transform="rotate(-12 785.6 286.1)" fill="none" stroke="#333" stroke-width="0.7"/>
<ellipse cx="786.4" cy="286.4" rx="4.2" ry="6.7" transform="rotate(-12 786.4 286.4)" fill="none" stroke="#333" stroke-width="0.6"/>
<ellipse cx="787.0" cy="286.6" rx="3.3" ry="5.4" transform="rotate(-12 787.0 286.6)" fill="none" stroke="#666" stroke-width="0.5"/>
<path d="M160.0,190.5 L169.6,187.6 M198.8,430.4 L215.7,443.7 M215.7,443.7 L230.2,439.7 M235.8,438.1 L240.6,436.8 M245.5,435.2 L261.6,431.4 M245.5,488.5 L259.2,492.5 M245.5,488.5 L245.5,508.6 M284.9,499.8 L300.0,504.0 M254.3,528.7 L266.0,531.5 M195.6,563.4 L218.1,557.7 M300.3,420.3 L322.4,413.9 M335.4,410.4 L353.8,405.3 M375.9,399.3 L438.4,381.8 M443.7,380.5 L448.4,379.1 M453.7,377.7 L476.0,371.4 M502.9,363.7 L521.9,358.9 M548.1,351.1 L572.5,344.2 M595.4,338.1 L613.8,333.1 M623.7,330.3 L643.6,324.9 M648.8,323.3 L656.6,321.1 M660.5,320.1 L684.4,313.7 M690.0,312.0 L695.2,310.6 M701.2,308.8 L720.3,303.9 M756.4,293.5 L788.3,284.8 M383.9,424.0 L403.3,419.1 M383.9,401.0 L383.9,424.0 M477.2,398.7 L506.0,390.8 M511.0,389.4 L516.0,388.0 M522.9,386.1 L555.0,377.5 M497.0,364.3 L524.8,392.3 M541.7,352.1 L554.2,363.8 M287.5,271.0 L297.5,268.3 M274.2,337.5 L295.0,332.0 M565.8,209.9 L584.0,204.6 M593.3,267.6 L613.0,261.9 M578.0,272.3 L586.9,269.8 M641.3,291.4 L661.9,286.2 M637.5,440.4 L655.4,435.6 M390.8,508.3 L424.6,499.8 M430.6,498.1 L436.4,496.6 M442.4,495.0 L458.3,490.8 M297.2,392.3 L318.0,388.0 M577.0,552.0 L595.4,546.7 M324.4,629.5 L345.8,636.0 " fill="none" stroke="#f26a6a" stroke-width="0.9" stroke-linecap="butt"/>
<path d="M109.0,142.7 L95.0,195.8" fill="none" stroke="#5560e8" stroke-width="0.9"/>
<path d="M194.4,127.0 L165.4,174.4" fill="none" stroke="#5560e8" stroke-width="0.9"/>
<path d="M279.2,114.5 L258.8,154.0" fill="none" stroke="#5560e8" stroke-width="0.9"/>
<path d="M337.5,255.8 L312.0,265.0" fill="none" stroke="#5560e8" stroke-width="0.9"/>
<path d="M338.3,293.3 L293.7,300.0" fill="none" stroke="#5560e8" stroke-width="0.9"/>
<path d="M240.0,323.3 L264.2,340.0" fill="none" stroke="#5560e8" stroke-width="0.9"/>
<path d="M323.5,367.6 L320.9,386.7" fill="none" stroke="#5560e8" stroke-width="0.9"/>
<path d="M335.4,384.4 L328.5,401.2" fill="none" stroke="#5560e8" stroke-width="0.9"/>
<path d="M368.7,380.6 L366.0,398.9" fill="none" stroke="#5560e8" stroke-width="0.9"/>
<path d="M337.0,438.6 L321.7,432.5" fill="none" stroke="#5560e8" stroke-width="0.9"/>
<path d="M337.0,438.6 L340.0,428.2" fill="none" stroke="#5560e8" stroke-width="0.9"/>
<path d="M195.6,391.4 L216.2,403.5" fill="none" stroke="#5560e8" stroke-width="0.9"/>
<path d="M481.0,313.0 L466.5,343.0" fill="none" stroke="#5560e8" stroke-width="0.9"/>
<path d="M535.5,438.3 L513.2,426.3" fill="none" stroke="#5560e8" stroke-width="0.9"/>
<path d="M575.5,424.6 L552.7,416.0" fill="none" stroke="#5560e8" stroke-width="0.9"/>
<path d="M575.5,424.6 L588.2,397.5" fill="none" stroke="#5560e8" stroke-width="0.9"/>
<path d="M612.7,483.3 L587.0,459.3" fill="none" stroke="#5560e8" stroke-width="0.9"/>
<path d="M569.4,518.3 L595.4,524.9" fill="none" stroke="#5560e8" stroke-width="0.9"/>
<path d="M693.6,568.1 L681.6,592.1" fill="none" stroke="#5560e8" stroke-width="0.9"/>
<path d="M257.5,558.5 L247.0,540.8" fill="none" stroke="#5560e8" stroke-width="0.9"/>
<path d="M192.9,569.2 L222.8,591.5" fill="none" stroke="#5560e8" stroke-width="0.9"/>
<path d="M183.3,574.3 L195.7,610.4" fill="none" stroke="#5560e8" stroke-width="0.9"/>
<path d="M290.9,623.5 L287.1,644.1" fill="none" stroke="#5560e8" stroke-width="0.9"/>
<path d="M361.6,659.5 L343.8,669.8" fill="none" stroke="#5560e8" stroke-width="0.9"/>
<path d="M386.7,636.0 L397.3,641.5" fill="none" stroke="#5560e8" stroke-width="0.9"/>
<path d="M530.3,219.3 L550.3,214.5" fill="none" stroke="#5560e8" stroke-width="0.9"/>
<path d="M533.2,262.3 L573.5,248.5" fill="none" stroke="#5560e8" stroke-width="0.9"/>
<path d="M655.9,248.5 L627.6,258.8" fill="none" stroke="#5560e8" stroke-width="0.9"/>
<path d="M721.7,260.2 L711.0,279.3" fill="none" stroke="#5560e8" stroke-width="0.9"/>
<path d="M770.2,256.1 L782.8,272.6" fill="none" stroke="#5560e8" stroke-width="0.9"/>
<path d="M569.4,316.0 L578.9,329.4" fill="none" stroke="#5560e8" stroke-width="0.9"/>
<path d="M602.8,310.6 L611.0,315.2" fill="none" stroke="#5560e8" stroke-width="0.9"/>
<path d="M605.4,361.5 L605.4,347.8" fill="none" stroke="#5560e8" stroke-width="0.9"/>
<path d="M605.4,361.5 L627.5,343.8" fill="none" stroke="#5560e8" stroke-width="0.9"/>
</svg>
</body></html>
